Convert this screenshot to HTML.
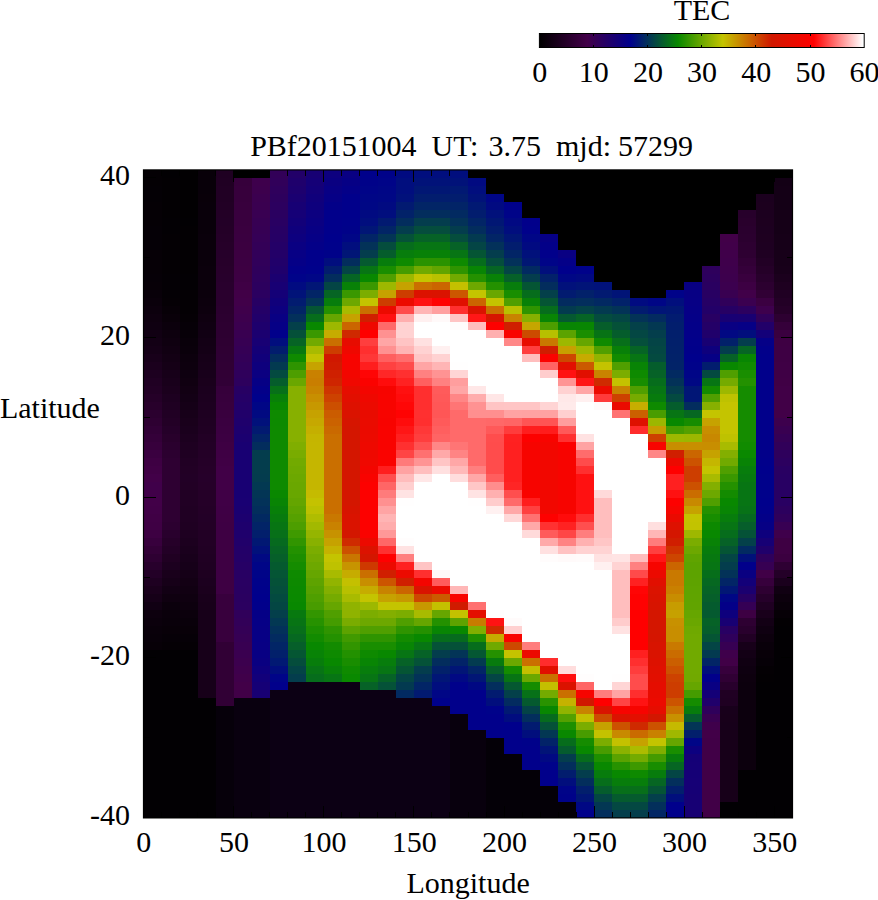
<!DOCTYPE html>
<html><head><meta charset="utf-8"><title>TEC map</title>
<style>
html,body{margin:0;padding:0;background:#fff;}
svg{display:block}
text{font-family:"Liberation Serif",serif;font-size:30px;fill:#000}
.g rect{shape-rendering:crispEdges}
.t line{stroke:#000;stroke-width:1;shape-rendering:crispEdges}
</style></head><body>
<svg width="878" height="900" viewBox="0 0 878 900">
<defs><linearGradient id="pal" x1="0" x2="1" y1="0" y2="0"><stop offset="0.0000" stop-color="rgb(0,0,0)"/><stop offset="0.1467" stop-color="rgb(66,0,72)"/><stop offset="0.2800" stop-color="rgb(0,0,140)"/><stop offset="0.4267" stop-color="rgb(8,136,0)"/><stop offset="0.5650" stop-color="rgb(196,196,0)"/><stop offset="0.7150" stop-color="rgb(208,24,0)"/><stop offset="0.8450" stop-color="rgb(255,0,0)"/><stop offset="0.9950" stop-color="rgb(255,255,255)"/></linearGradient></defs>
<rect x="0" y="0" width="878" height="900" fill="#fff"/>
<g class="g">
<rect x="143.60" y="170.00" width="18.08" height="16.05" fill="#040004"/>
<rect x="143.60" y="186.00" width="18.08" height="16.05" fill="#040005"/>
<rect x="143.60" y="202.00" width="18.08" height="24.05" fill="#050005"/>
<rect x="143.60" y="226.00" width="18.08" height="24.05" fill="#050006"/>
<rect x="143.60" y="250.00" width="18.08" height="24.05" fill="#060006"/>
<rect x="143.60" y="274.00" width="18.08" height="8.05" fill="#060007"/>
<rect x="143.60" y="282.00" width="18.08" height="8.05" fill="#070007"/>
<rect x="143.60" y="290.00" width="18.08" height="8.05" fill="#080009"/>
<rect x="143.60" y="298.00" width="18.08" height="8.05" fill="#0a000b"/>
<rect x="143.60" y="306.00" width="18.08" height="8.05" fill="#0c000d"/>
<rect x="143.60" y="314.00" width="18.08" height="8.05" fill="#0e000f"/>
<rect x="143.60" y="322.00" width="18.08" height="8.05" fill="#0f0011"/>
<rect x="143.60" y="330.00" width="18.08" height="8.05" fill="#110013"/>
<rect x="143.60" y="338.00" width="18.08" height="8.05" fill="#130015"/>
<rect x="143.60" y="346.00" width="18.08" height="8.05" fill="#150017"/>
<rect x="143.60" y="354.00" width="18.08" height="8.05" fill="#18001a"/>
<rect x="143.60" y="362.00" width="18.08" height="8.05" fill="#1b001d"/>
<rect x="143.60" y="370.00" width="18.08" height="8.05" fill="#1d0020"/>
<rect x="143.60" y="378.00" width="18.08" height="8.05" fill="#200023"/>
<rect x="143.60" y="386.00" width="18.08" height="8.05" fill="#220025"/>
<rect x="143.60" y="394.00" width="18.08" height="8.05" fill="#250028"/>
<rect x="143.60" y="402.00" width="18.08" height="8.05" fill="#28002b"/>
<rect x="143.60" y="410.00" width="18.08" height="8.05" fill="#2b002f"/>
<rect x="143.60" y="418.00" width="18.08" height="8.05" fill="#2e0032"/>
<rect x="143.60" y="426.00" width="18.08" height="8.05" fill="#310036"/>
<rect x="143.60" y="434.00" width="18.08" height="8.05" fill="#340039"/>
<rect x="143.60" y="442.00" width="18.08" height="8.05" fill="#37003c"/>
<rect x="143.60" y="450.00" width="18.08" height="8.05" fill="#3a0040"/>
<rect x="143.60" y="458.00" width="18.08" height="8.05" fill="#3e0043"/>
<rect x="143.60" y="466.00" width="18.08" height="8.05" fill="#400045"/>
<rect x="143.60" y="474.00" width="18.08" height="8.05" fill="#420048"/>
<rect x="143.60" y="482.00" width="18.08" height="8.05" fill="#40004a"/>
<rect x="143.60" y="490.00" width="18.08" height="8.05" fill="#410049"/>
<rect x="143.60" y="498.00" width="18.08" height="8.05" fill="#420048"/>
<rect x="143.60" y="506.00" width="18.08" height="8.05" fill="#410047"/>
<rect x="143.60" y="514.00" width="18.08" height="8.05" fill="#400045"/>
<rect x="143.60" y="522.00" width="18.08" height="8.05" fill="#3f0044"/>
<rect x="143.60" y="530.00" width="18.08" height="8.05" fill="#3d0042"/>
<rect x="143.60" y="538.00" width="18.08" height="8.05" fill="#38003d"/>
<rect x="143.60" y="546.00" width="18.08" height="8.05" fill="#330037"/>
<rect x="143.60" y="554.00" width="18.08" height="8.05" fill="#2e0032"/>
<rect x="143.60" y="562.00" width="18.08" height="8.05" fill="#28002c"/>
<rect x="143.60" y="570.00" width="18.08" height="8.05" fill="#230027"/>
<rect x="143.60" y="578.00" width="18.08" height="8.05" fill="#1e0021"/>
<rect x="143.60" y="586.00" width="18.08" height="8.05" fill="#1a001c"/>
<rect x="143.60" y="594.00" width="18.08" height="8.05" fill="#160018"/>
<rect x="143.60" y="602.00" width="18.08" height="8.05" fill="#110013"/>
<rect x="143.60" y="610.00" width="18.08" height="8.05" fill="#0d000e"/>
<rect x="143.60" y="618.00" width="18.08" height="8.05" fill="#0b000c"/>
<rect x="143.60" y="626.00" width="18.08" height="8.05" fill="#09000a"/>
<rect x="143.60" y="634.00" width="18.08" height="8.05" fill="#080009"/>
<rect x="143.60" y="642.00" width="18.08" height="8.05" fill="#070007"/>
<rect x="143.60" y="650.00" width="18.08" height="168.05" fill="#020003"/>
<rect x="161.62" y="170.00" width="18.07" height="8.05" fill="#020003"/>
<rect x="161.62" y="178.00" width="18.07" height="40.05" fill="#030003"/>
<rect x="161.62" y="218.00" width="18.07" height="16.05" fill="#030004"/>
<rect x="161.62" y="234.00" width="18.07" height="40.05" fill="#040004"/>
<rect x="161.62" y="274.00" width="18.07" height="24.05" fill="#040005"/>
<rect x="161.62" y="298.00" width="18.07" height="8.05" fill="#050005"/>
<rect x="161.62" y="306.00" width="18.07" height="8.05" fill="#070007"/>
<rect x="161.62" y="314.00" width="18.07" height="8.05" fill="#090009"/>
<rect x="161.62" y="322.00" width="18.07" height="8.05" fill="#0b000c"/>
<rect x="161.62" y="330.00" width="18.07" height="8.05" fill="#0d000e"/>
<rect x="161.62" y="338.00" width="18.07" height="8.05" fill="#0f0010"/>
<rect x="161.62" y="346.00" width="18.07" height="8.05" fill="#110012"/>
<rect x="161.62" y="354.00" width="18.07" height="8.05" fill="#130014"/>
<rect x="161.62" y="362.00" width="18.07" height="8.05" fill="#150016"/>
<rect x="161.62" y="370.00" width="18.07" height="8.05" fill="#170019"/>
<rect x="161.62" y="378.00" width="18.07" height="8.05" fill="#19001b"/>
<rect x="161.62" y="386.00" width="18.07" height="8.05" fill="#1b001d"/>
<rect x="161.62" y="394.00" width="18.07" height="8.05" fill="#1d0020"/>
<rect x="161.62" y="402.00" width="18.07" height="8.05" fill="#1f0022"/>
<rect x="161.62" y="410.00" width="18.07" height="8.05" fill="#210024"/>
<rect x="161.62" y="418.00" width="18.07" height="8.05" fill="#230026"/>
<rect x="161.62" y="426.00" width="18.07" height="8.05" fill="#250029"/>
<rect x="161.62" y="434.00" width="18.07" height="8.05" fill="#28002b"/>
<rect x="161.62" y="442.00" width="18.07" height="8.05" fill="#2a002e"/>
<rect x="161.62" y="450.00" width="18.07" height="8.05" fill="#2c0030"/>
<rect x="161.62" y="458.00" width="18.07" height="64.05" fill="#2e0032"/>
<rect x="161.62" y="522.00" width="18.07" height="8.05" fill="#2c0030"/>
<rect x="161.62" y="530.00" width="18.07" height="8.05" fill="#29002d"/>
<rect x="161.62" y="538.00" width="18.07" height="8.05" fill="#260029"/>
<rect x="161.62" y="546.00" width="18.07" height="8.05" fill="#230026"/>
<rect x="161.62" y="554.00" width="18.07" height="8.05" fill="#200022"/>
<rect x="161.62" y="562.00" width="18.07" height="8.05" fill="#1c001f"/>
<rect x="161.62" y="570.00" width="18.07" height="8.05" fill="#19001b"/>
<rect x="161.62" y="578.00" width="18.07" height="8.05" fill="#160018"/>
<rect x="161.62" y="586.00" width="18.07" height="8.05" fill="#120014"/>
<rect x="161.62" y="594.00" width="18.07" height="8.05" fill="#0f0010"/>
<rect x="161.62" y="602.00" width="18.07" height="8.05" fill="#0b000c"/>
<rect x="161.62" y="610.00" width="18.07" height="8.05" fill="#0a000b"/>
<rect x="161.62" y="618.00" width="18.07" height="8.05" fill="#09000a"/>
<rect x="161.62" y="626.00" width="18.07" height="8.05" fill="#080008"/>
<rect x="161.62" y="634.00" width="18.07" height="8.05" fill="#060007"/>
<rect x="161.62" y="642.00" width="18.07" height="8.05" fill="#050005"/>
<rect x="161.62" y="650.00" width="18.07" height="168.05" fill="#020003"/>
<rect x="179.65" y="170.00" width="18.08" height="48.05" fill="#020002"/>
<rect x="179.65" y="218.00" width="18.08" height="8.05" fill="#020003"/>
<rect x="179.65" y="226.00" width="18.08" height="48.05" fill="#030003"/>
<rect x="179.65" y="274.00" width="18.08" height="16.05" fill="#030004"/>
<rect x="179.65" y="290.00" width="18.08" height="24.05" fill="#040004"/>
<rect x="179.65" y="314.00" width="18.08" height="8.05" fill="#050005"/>
<rect x="179.65" y="322.00" width="18.08" height="8.05" fill="#060007"/>
<rect x="179.65" y="330.00" width="18.08" height="8.05" fill="#070008"/>
<rect x="179.65" y="338.00" width="18.08" height="8.05" fill="#09000a"/>
<rect x="179.65" y="346.00" width="18.08" height="8.05" fill="#0a000b"/>
<rect x="179.65" y="354.00" width="18.08" height="8.05" fill="#0c000d"/>
<rect x="179.65" y="362.00" width="18.08" height="8.05" fill="#0d000e"/>
<rect x="179.65" y="370.00" width="18.08" height="8.05" fill="#0e0010"/>
<rect x="179.65" y="378.00" width="18.08" height="8.05" fill="#100011"/>
<rect x="179.65" y="386.00" width="18.08" height="8.05" fill="#120013"/>
<rect x="179.65" y="394.00" width="18.08" height="8.05" fill="#130015"/>
<rect x="179.65" y="402.00" width="18.08" height="8.05" fill="#150017"/>
<rect x="179.65" y="410.00" width="18.08" height="8.05" fill="#170019"/>
<rect x="179.65" y="418.00" width="18.08" height="8.05" fill="#19001b"/>
<rect x="179.65" y="426.00" width="18.08" height="8.05" fill="#1a001d"/>
<rect x="179.65" y="434.00" width="18.08" height="8.05" fill="#1c001f"/>
<rect x="179.65" y="442.00" width="18.08" height="8.05" fill="#1e0021"/>
<rect x="179.65" y="450.00" width="18.08" height="8.05" fill="#1f0022"/>
<rect x="179.65" y="458.00" width="18.08" height="8.05" fill="#210024"/>
<rect x="179.65" y="466.00" width="18.08" height="8.05" fill="#220025"/>
<rect x="179.65" y="474.00" width="18.08" height="8.05" fill="#220026"/>
<rect x="179.65" y="482.00" width="18.08" height="8.05" fill="#220025"/>
<rect x="179.65" y="490.00" width="18.08" height="16.05" fill="#210024"/>
<rect x="179.65" y="506.00" width="18.08" height="16.05" fill="#200023"/>
<rect x="179.65" y="522.00" width="18.08" height="8.05" fill="#1f0022"/>
<rect x="179.65" y="530.00" width="18.08" height="8.05" fill="#1e0021"/>
<rect x="179.65" y="538.00" width="18.08" height="8.05" fill="#1c001f"/>
<rect x="179.65" y="546.00" width="18.08" height="8.05" fill="#1a001d"/>
<rect x="179.65" y="554.00" width="18.08" height="8.05" fill="#18001b"/>
<rect x="179.65" y="562.00" width="18.08" height="8.05" fill="#160019"/>
<rect x="179.65" y="570.00" width="18.08" height="8.05" fill="#150017"/>
<rect x="179.65" y="578.00" width="18.08" height="8.05" fill="#130014"/>
<rect x="179.65" y="586.00" width="18.08" height="8.05" fill="#110012"/>
<rect x="179.65" y="594.00" width="18.08" height="8.05" fill="#0f0010"/>
<rect x="179.65" y="602.00" width="18.08" height="8.05" fill="#0d000e"/>
<rect x="179.65" y="610.00" width="18.08" height="8.05" fill="#0b000c"/>
<rect x="179.65" y="618.00" width="18.08" height="8.05" fill="#09000a"/>
<rect x="179.65" y="626.00" width="18.08" height="8.05" fill="#080008"/>
<rect x="179.65" y="634.00" width="18.08" height="8.05" fill="#060007"/>
<rect x="179.65" y="642.00" width="18.08" height="8.05" fill="#050005"/>
<rect x="179.65" y="650.00" width="18.08" height="168.05" fill="#020003"/>
<rect x="197.67" y="170.00" width="18.08" height="24.05" fill="#080009"/>
<rect x="197.67" y="194.00" width="18.08" height="8.05" fill="#090009"/>
<rect x="197.67" y="202.00" width="18.08" height="32.05" fill="#09000a"/>
<rect x="197.67" y="234.00" width="18.08" height="32.05" fill="#0a000b"/>
<rect x="197.67" y="266.00" width="18.08" height="32.05" fill="#0b000c"/>
<rect x="197.67" y="298.00" width="18.08" height="8.05" fill="#0c000d"/>
<rect x="197.67" y="306.00" width="18.08" height="8.05" fill="#0d000e"/>
<rect x="197.67" y="314.00" width="18.08" height="8.05" fill="#0f0010"/>
<rect x="197.67" y="322.00" width="18.08" height="8.05" fill="#100012"/>
<rect x="197.67" y="330.00" width="18.08" height="8.05" fill="#110013"/>
<rect x="197.67" y="338.00" width="18.08" height="8.05" fill="#130015"/>
<rect x="197.67" y="346.00" width="18.08" height="8.05" fill="#140016"/>
<rect x="197.67" y="354.00" width="18.08" height="8.05" fill="#160018"/>
<rect x="197.67" y="362.00" width="18.08" height="8.05" fill="#170019"/>
<rect x="197.67" y="370.00" width="18.08" height="8.05" fill="#18001b"/>
<rect x="197.67" y="378.00" width="18.08" height="8.05" fill="#1a001c"/>
<rect x="197.67" y="386.00" width="18.08" height="8.05" fill="#1b001e"/>
<rect x="197.67" y="394.00" width="18.08" height="8.05" fill="#1c001f"/>
<rect x="197.67" y="402.00" width="18.08" height="8.05" fill="#1d0020"/>
<rect x="197.67" y="410.00" width="18.08" height="8.05" fill="#1e0021"/>
<rect x="197.67" y="418.00" width="18.08" height="8.05" fill="#1f0022"/>
<rect x="197.67" y="426.00" width="18.08" height="8.05" fill="#200023"/>
<rect x="197.67" y="434.00" width="18.08" height="8.05" fill="#220025"/>
<rect x="197.67" y="442.00" width="18.08" height="8.05" fill="#230026"/>
<rect x="197.67" y="450.00" width="18.08" height="8.05" fill="#240027"/>
<rect x="197.67" y="458.00" width="18.08" height="8.05" fill="#250028"/>
<rect x="197.67" y="466.00" width="18.08" height="8.05" fill="#260029"/>
<rect x="197.67" y="474.00" width="18.08" height="8.05" fill="#26002a"/>
<rect x="197.67" y="482.00" width="18.08" height="8.05" fill="#260029"/>
<rect x="197.67" y="490.00" width="18.08" height="16.05" fill="#250028"/>
<rect x="197.67" y="506.00" width="18.08" height="8.05" fill="#240027"/>
<rect x="197.67" y="514.00" width="18.08" height="8.05" fill="#230027"/>
<rect x="197.67" y="522.00" width="18.08" height="8.05" fill="#230026"/>
<rect x="197.67" y="530.00" width="18.08" height="16.05" fill="#220025"/>
<rect x="197.67" y="546.00" width="18.08" height="8.05" fill="#210024"/>
<rect x="197.67" y="554.00" width="18.08" height="8.05" fill="#200023"/>
<rect x="197.67" y="562.00" width="18.08" height="8.05" fill="#1f0022"/>
<rect x="197.67" y="570.00" width="18.08" height="8.05" fill="#1e0020"/>
<rect x="197.67" y="578.00" width="18.08" height="8.05" fill="#1c001f"/>
<rect x="197.67" y="586.00" width="18.08" height="8.05" fill="#1b001d"/>
<rect x="197.67" y="594.00" width="18.08" height="8.05" fill="#19001b"/>
<rect x="197.67" y="602.00" width="18.08" height="8.05" fill="#18001a"/>
<rect x="197.67" y="610.00" width="18.08" height="88.05" fill="#170019"/>
<rect x="197.67" y="698.00" width="18.08" height="120.05" fill="#020003"/>
<rect x="215.70" y="170.00" width="18.08" height="8.05" fill="#1f0022"/>
<rect x="215.70" y="178.00" width="18.08" height="8.05" fill="#200023"/>
<rect x="215.70" y="186.00" width="18.08" height="16.05" fill="#210024"/>
<rect x="215.70" y="202.00" width="18.08" height="8.05" fill="#220025"/>
<rect x="215.70" y="210.00" width="18.08" height="8.05" fill="#230026"/>
<rect x="215.70" y="218.00" width="18.08" height="8.05" fill="#230027"/>
<rect x="215.70" y="226.00" width="18.08" height="8.05" fill="#240027"/>
<rect x="215.70" y="234.00" width="18.08" height="8.05" fill="#250028"/>
<rect x="215.70" y="242.00" width="18.08" height="8.05" fill="#260029"/>
<rect x="215.70" y="250.00" width="18.08" height="8.05" fill="#26002a"/>
<rect x="215.70" y="258.00" width="18.08" height="8.05" fill="#27002a"/>
<rect x="215.70" y="266.00" width="18.08" height="8.05" fill="#28002b"/>
<rect x="215.70" y="274.00" width="18.08" height="8.05" fill="#28002c"/>
<rect x="215.70" y="282.00" width="18.08" height="8.05" fill="#29002d"/>
<rect x="215.70" y="290.00" width="18.08" height="16.05" fill="#2a002e"/>
<rect x="215.70" y="306.00" width="18.08" height="8.05" fill="#2b002f"/>
<rect x="215.70" y="314.00" width="18.08" height="8.05" fill="#2c0030"/>
<rect x="215.70" y="322.00" width="18.08" height="16.05" fill="#2d0031"/>
<rect x="215.70" y="338.00" width="18.08" height="8.05" fill="#2e0032"/>
<rect x="215.70" y="346.00" width="18.08" height="8.05" fill="#2f0033"/>
<rect x="215.70" y="354.00" width="18.08" height="8.05" fill="#2f0034"/>
<rect x="215.70" y="362.00" width="18.08" height="8.05" fill="#300034"/>
<rect x="215.70" y="370.00" width="18.08" height="8.05" fill="#310035"/>
<rect x="215.70" y="378.00" width="18.08" height="8.05" fill="#310036"/>
<rect x="215.70" y="386.00" width="18.08" height="8.05" fill="#36003b"/>
<rect x="215.70" y="394.00" width="18.08" height="8.05" fill="#37003c"/>
<rect x="215.70" y="402.00" width="18.08" height="8.05" fill="#38003d"/>
<rect x="215.70" y="410.00" width="18.08" height="8.05" fill="#39003e"/>
<rect x="215.70" y="418.00" width="18.08" height="8.05" fill="#3a0040"/>
<rect x="215.70" y="426.00" width="18.08" height="8.05" fill="#3b0041"/>
<rect x="215.70" y="434.00" width="18.08" height="8.05" fill="#3c0042"/>
<rect x="215.70" y="442.00" width="18.08" height="8.05" fill="#3e0043"/>
<rect x="215.70" y="450.00" width="18.08" height="8.05" fill="#3f0044"/>
<rect x="215.70" y="458.00" width="18.08" height="8.05" fill="#400045"/>
<rect x="215.70" y="466.00" width="18.08" height="24.05" fill="#410047"/>
<rect x="215.70" y="490.00" width="18.08" height="16.05" fill="#400046"/>
<rect x="215.70" y="506.00" width="18.08" height="8.05" fill="#3f0045"/>
<rect x="215.70" y="514.00" width="18.08" height="8.05" fill="#3f0044"/>
<rect x="215.70" y="522.00" width="18.08" height="8.05" fill="#3e0044"/>
<rect x="215.70" y="530.00" width="18.08" height="64.05" fill="#3e0043"/>
<rect x="215.70" y="594.00" width="18.08" height="48.05" fill="#38003d"/>
<rect x="215.70" y="642.00" width="18.08" height="64.05" fill="#310035"/>
<rect x="215.70" y="706.00" width="18.08" height="112.05" fill="#06000a"/>
<rect x="233.72" y="170.00" width="18.08" height="8.05" fill="#000000"/>
<rect x="233.72" y="178.00" width="18.08" height="8.05" fill="#36003b"/>
<rect x="233.72" y="186.00" width="18.08" height="16.05" fill="#37003c"/>
<rect x="233.72" y="202.00" width="18.08" height="8.05" fill="#38003d"/>
<rect x="233.72" y="210.00" width="18.08" height="16.05" fill="#39003e"/>
<rect x="233.72" y="226.00" width="18.08" height="8.05" fill="#3a003f"/>
<rect x="233.72" y="234.00" width="18.08" height="8.05" fill="#3a0040"/>
<rect x="233.72" y="242.00" width="18.08" height="8.05" fill="#3b0040"/>
<rect x="233.72" y="250.00" width="18.08" height="8.05" fill="#3c0041"/>
<rect x="233.72" y="258.00" width="18.08" height="8.05" fill="#3c0042"/>
<rect x="233.72" y="266.00" width="18.08" height="8.05" fill="#3d0042"/>
<rect x="233.72" y="274.00" width="18.08" height="8.05" fill="#3d0043"/>
<rect x="233.72" y="282.00" width="18.08" height="8.05" fill="#3f0045"/>
<rect x="233.72" y="290.00" width="18.08" height="8.05" fill="#410047"/>
<rect x="233.72" y="298.00" width="18.08" height="8.05" fill="#410049"/>
<rect x="233.72" y="306.00" width="18.08" height="8.05" fill="#3f004b"/>
<rect x="233.72" y="314.00" width="18.08" height="8.05" fill="#3d004d"/>
<rect x="233.72" y="322.00" width="18.08" height="8.05" fill="#3b004f"/>
<rect x="233.72" y="330.00" width="18.08" height="8.05" fill="#390051"/>
<rect x="233.72" y="338.00" width="18.08" height="8.05" fill="#370053"/>
<rect x="233.72" y="346.00" width="18.08" height="8.05" fill="#350055"/>
<rect x="233.72" y="354.00" width="18.08" height="8.05" fill="#330057"/>
<rect x="233.72" y="362.00" width="18.08" height="8.05" fill="#310059"/>
<rect x="233.72" y="370.00" width="18.08" height="8.05" fill="#2f005b"/>
<rect x="233.72" y="378.00" width="18.08" height="8.05" fill="#2d005d"/>
<rect x="233.72" y="386.00" width="18.08" height="8.05" fill="#270063"/>
<rect x="233.72" y="394.00" width="18.08" height="8.05" fill="#250066"/>
<rect x="233.72" y="402.00" width="18.08" height="8.05" fill="#230068"/>
<rect x="233.72" y="410.00" width="18.08" height="8.05" fill="#21006a"/>
<rect x="233.72" y="418.00" width="18.08" height="8.05" fill="#1f006c"/>
<rect x="233.72" y="426.00" width="18.08" height="8.05" fill="#1d006e"/>
<rect x="233.72" y="434.00" width="18.08" height="8.05" fill="#1b0070"/>
<rect x="233.72" y="442.00" width="18.08" height="8.05" fill="#190072"/>
<rect x="233.72" y="450.00" width="18.08" height="48.05" fill="#180073"/>
<rect x="233.72" y="498.00" width="18.08" height="8.05" fill="#190073"/>
<rect x="233.72" y="506.00" width="18.08" height="8.05" fill="#1a0071"/>
<rect x="233.72" y="514.00" width="18.08" height="8.05" fill="#1c006f"/>
<rect x="233.72" y="522.00" width="18.08" height="8.05" fill="#1e006d"/>
<rect x="233.72" y="530.00" width="18.08" height="8.05" fill="#1f006c"/>
<rect x="233.72" y="538.00" width="18.08" height="8.05" fill="#21006a"/>
<rect x="233.72" y="546.00" width="18.08" height="8.05" fill="#230068"/>
<rect x="233.72" y="554.00" width="18.08" height="8.05" fill="#240067"/>
<rect x="233.72" y="562.00" width="18.08" height="8.05" fill="#260065"/>
<rect x="233.72" y="570.00" width="18.08" height="8.05" fill="#280063"/>
<rect x="233.72" y="578.00" width="18.08" height="8.05" fill="#290062"/>
<rect x="233.72" y="586.00" width="18.08" height="8.05" fill="#290061"/>
<rect x="233.72" y="594.00" width="18.08" height="8.05" fill="#2a0060"/>
<rect x="233.72" y="602.00" width="18.08" height="8.05" fill="#2b0060"/>
<rect x="233.72" y="610.00" width="18.08" height="8.05" fill="#30005a"/>
<rect x="233.72" y="618.00" width="18.08" height="8.05" fill="#320058"/>
<rect x="233.72" y="626.00" width="18.08" height="8.05" fill="#340056"/>
<rect x="233.72" y="634.00" width="18.08" height="8.05" fill="#360054"/>
<rect x="233.72" y="642.00" width="18.08" height="8.05" fill="#380052"/>
<rect x="233.72" y="650.00" width="18.08" height="8.05" fill="#3a0050"/>
<rect x="233.72" y="658.00" width="18.08" height="8.05" fill="#3c004e"/>
<rect x="233.72" y="666.00" width="18.08" height="8.05" fill="#3e004c"/>
<rect x="233.72" y="674.00" width="18.08" height="8.05" fill="#40004a"/>
<rect x="233.72" y="682.00" width="18.08" height="8.05" fill="#420048"/>
<rect x="233.72" y="690.00" width="18.08" height="8.05" fill="#410047"/>
<rect x="233.72" y="698.00" width="18.08" height="120.05" fill="#09000f"/>
<rect x="251.75" y="170.00" width="18.07" height="8.05" fill="#000000"/>
<rect x="251.75" y="178.00" width="18.07" height="8.05" fill="#3e004c"/>
<rect x="251.75" y="186.00" width="18.07" height="8.05" fill="#3d004d"/>
<rect x="251.75" y="194.00" width="18.07" height="8.05" fill="#3b004f"/>
<rect x="251.75" y="202.00" width="18.07" height="8.05" fill="#3a0050"/>
<rect x="251.75" y="210.00" width="18.07" height="8.05" fill="#390052"/>
<rect x="251.75" y="218.00" width="18.07" height="8.05" fill="#370053"/>
<rect x="251.75" y="226.00" width="18.07" height="8.05" fill="#360054"/>
<rect x="251.75" y="234.00" width="18.07" height="8.05" fill="#350056"/>
<rect x="251.75" y="242.00" width="18.07" height="8.05" fill="#330057"/>
<rect x="251.75" y="250.00" width="18.07" height="8.05" fill="#320059"/>
<rect x="251.75" y="258.00" width="18.07" height="8.05" fill="#31005a"/>
<rect x="251.75" y="266.00" width="18.07" height="8.05" fill="#2f005b"/>
<rect x="251.75" y="274.00" width="18.07" height="8.05" fill="#2e005d"/>
<rect x="251.75" y="282.00" width="18.07" height="8.05" fill="#2c005e"/>
<rect x="251.75" y="290.00" width="18.07" height="8.05" fill="#2b0060"/>
<rect x="251.75" y="298.00" width="18.07" height="8.05" fill="#270063"/>
<rect x="251.75" y="306.00" width="18.07" height="8.05" fill="#240067"/>
<rect x="251.75" y="314.00" width="18.07" height="8.05" fill="#21006a"/>
<rect x="251.75" y="322.00" width="18.07" height="8.05" fill="#1e006d"/>
<rect x="251.75" y="330.00" width="18.07" height="8.05" fill="#1b0070"/>
<rect x="251.75" y="338.00" width="18.07" height="8.05" fill="#180074"/>
<rect x="251.75" y="346.00" width="18.07" height="8.05" fill="#140077"/>
<rect x="251.75" y="354.00" width="18.07" height="8.05" fill="#11007a"/>
<rect x="251.75" y="362.00" width="18.07" height="8.05" fill="#0e007d"/>
<rect x="251.75" y="370.00" width="18.07" height="8.05" fill="#0b0081"/>
<rect x="251.75" y="378.00" width="18.07" height="8.05" fill="#060085"/>
<rect x="251.75" y="386.00" width="18.07" height="8.05" fill="#030089"/>
<rect x="251.75" y="394.00" width="18.07" height="8.05" fill="#00018b"/>
<rect x="251.75" y="402.00" width="18.07" height="8.05" fill="#000686"/>
<rect x="251.75" y="410.00" width="18.07" height="8.05" fill="#010a81"/>
<rect x="251.75" y="418.00" width="18.07" height="8.05" fill="#01117b"/>
<rect x="251.75" y="426.00" width="18.07" height="8.05" fill="#021a71"/>
<rect x="251.75" y="434.00" width="18.07" height="8.05" fill="#022467"/>
<rect x="251.75" y="442.00" width="18.07" height="8.05" fill="#032d5d"/>
<rect x="251.75" y="450.00" width="18.07" height="24.05" fill="#043d4d"/>
<rect x="251.75" y="474.00" width="18.07" height="8.05" fill="#043c4e"/>
<rect x="251.75" y="482.00" width="18.07" height="8.05" fill="#033952"/>
<rect x="251.75" y="490.00" width="18.07" height="8.05" fill="#033555"/>
<rect x="251.75" y="498.00" width="18.07" height="8.05" fill="#033259"/>
<rect x="251.75" y="506.00" width="18.07" height="8.05" fill="#032e5c"/>
<rect x="251.75" y="514.00" width="18.07" height="8.05" fill="#022961"/>
<rect x="251.75" y="522.00" width="18.07" height="8.05" fill="#022467"/>
<rect x="251.75" y="530.00" width="18.07" height="8.05" fill="#021f6c"/>
<rect x="251.75" y="538.00" width="18.07" height="8.05" fill="#011873"/>
<rect x="251.75" y="546.00" width="18.07" height="8.05" fill="#01117b"/>
<rect x="251.75" y="554.00" width="18.07" height="8.05" fill="#010983"/>
<rect x="251.75" y="562.00" width="18.07" height="8.05" fill="#000587"/>
<rect x="251.75" y="570.00" width="18.07" height="8.05" fill="#000488"/>
<rect x="251.75" y="578.00" width="18.07" height="8.05" fill="#00028a"/>
<rect x="251.75" y="586.00" width="18.07" height="8.05" fill="#00018b"/>
<rect x="251.75" y="594.00" width="18.07" height="8.05" fill="#00008c"/>
<rect x="251.75" y="602.00" width="18.07" height="8.05" fill="#01008b"/>
<rect x="251.75" y="610.00" width="18.07" height="8.05" fill="#050086"/>
<rect x="251.75" y="618.00" width="18.07" height="8.05" fill="#060086"/>
<rect x="251.75" y="626.00" width="18.07" height="16.05" fill="#070085"/>
<rect x="251.75" y="642.00" width="18.07" height="8.05" fill="#080084"/>
<rect x="251.75" y="650.00" width="18.07" height="8.05" fill="#080083"/>
<rect x="251.75" y="658.00" width="18.07" height="8.05" fill="#0a0081"/>
<rect x="251.75" y="666.00" width="18.07" height="8.05" fill="#0e007e"/>
<rect x="251.75" y="674.00" width="18.07" height="8.05" fill="#12007a"/>
<rect x="251.75" y="682.00" width="18.07" height="8.05" fill="#150076"/>
<rect x="251.75" y="690.00" width="18.07" height="8.05" fill="#180073"/>
<rect x="251.75" y="698.00" width="18.07" height="120.05" fill="#09000f"/>
<rect x="269.77" y="170.00" width="18.07" height="8.05" fill="#320058"/>
<rect x="269.77" y="178.00" width="18.07" height="8.05" fill="#31005a"/>
<rect x="269.77" y="186.00" width="18.07" height="8.05" fill="#2f005c"/>
<rect x="269.77" y="194.00" width="18.07" height="8.05" fill="#2d005d"/>
<rect x="269.77" y="202.00" width="18.07" height="8.05" fill="#2c005f"/>
<rect x="269.77" y="210.00" width="18.07" height="8.05" fill="#2a0060"/>
<rect x="269.77" y="218.00" width="18.07" height="8.05" fill="#290062"/>
<rect x="269.77" y="226.00" width="18.07" height="8.05" fill="#270064"/>
<rect x="269.77" y="234.00" width="18.07" height="8.05" fill="#260065"/>
<rect x="269.77" y="242.00" width="18.07" height="8.05" fill="#240067"/>
<rect x="269.77" y="250.00" width="18.07" height="8.05" fill="#230068"/>
<rect x="269.77" y="258.00" width="18.07" height="8.05" fill="#21006a"/>
<rect x="269.77" y="266.00" width="18.07" height="8.05" fill="#1f006c"/>
<rect x="269.77" y="274.00" width="18.07" height="8.05" fill="#1b0070"/>
<rect x="269.77" y="282.00" width="18.07" height="8.05" fill="#180074"/>
<rect x="269.77" y="290.00" width="18.07" height="8.05" fill="#140077"/>
<rect x="269.77" y="298.00" width="18.07" height="8.05" fill="#10007b"/>
<rect x="269.77" y="306.00" width="18.07" height="8.05" fill="#0d007f"/>
<rect x="269.77" y="314.00" width="18.07" height="8.05" fill="#090083"/>
<rect x="269.77" y="322.00" width="18.07" height="8.05" fill="#060086"/>
<rect x="269.77" y="330.00" width="18.07" height="8.05" fill="#01008b"/>
<rect x="269.77" y="338.00" width="18.07" height="8.05" fill="#010e7e"/>
<rect x="269.77" y="346.00" width="18.07" height="8.05" fill="#021d6e"/>
<rect x="269.77" y="354.00" width="18.07" height="8.05" fill="#032d5d"/>
<rect x="269.77" y="362.00" width="18.07" height="8.05" fill="#033a50"/>
<rect x="269.77" y="370.00" width="18.07" height="8.05" fill="#044a40"/>
<rect x="269.77" y="378.00" width="18.07" height="8.05" fill="#055d2c"/>
<rect x="269.77" y="386.00" width="18.07" height="8.05" fill="#077019"/>
<rect x="269.77" y="394.00" width="18.07" height="8.05" fill="#088008"/>
<rect x="269.77" y="402.00" width="18.07" height="8.05" fill="#088800"/>
<rect x="269.77" y="410.00" width="18.07" height="8.05" fill="#0e8a00"/>
<rect x="269.77" y="418.00" width="18.07" height="8.05" fill="#0d8a00"/>
<rect x="269.77" y="426.00" width="18.07" height="64.05" fill="#0e8a00"/>
<rect x="269.77" y="490.00" width="18.07" height="8.05" fill="#098800"/>
<rect x="269.77" y="498.00" width="18.07" height="8.05" fill="#088404"/>
<rect x="269.77" y="506.00" width="18.07" height="8.05" fill="#077f09"/>
<rect x="269.77" y="514.00" width="18.07" height="8.05" fill="#077a0e"/>
<rect x="269.77" y="522.00" width="18.07" height="8.05" fill="#077513"/>
<rect x="269.77" y="530.00" width="18.07" height="8.05" fill="#077019"/>
<rect x="269.77" y="538.00" width="18.07" height="8.05" fill="#066a1f"/>
<rect x="269.77" y="546.00" width="18.07" height="8.05" fill="#066425"/>
<rect x="269.77" y="554.00" width="18.07" height="8.05" fill="#065f2a"/>
<rect x="269.77" y="562.00" width="18.07" height="8.05" fill="#055a2f"/>
<rect x="269.77" y="570.00" width="18.07" height="8.05" fill="#055535"/>
<rect x="269.77" y="578.00" width="18.07" height="8.05" fill="#055138"/>
<rect x="269.77" y="586.00" width="18.07" height="8.05" fill="#054e3c"/>
<rect x="269.77" y="594.00" width="18.07" height="8.05" fill="#044a40"/>
<rect x="269.77" y="602.00" width="18.07" height="8.05" fill="#044643"/>
<rect x="269.77" y="610.00" width="18.07" height="8.05" fill="#043f4b"/>
<rect x="269.77" y="618.00" width="18.07" height="8.05" fill="#033853"/>
<rect x="269.77" y="626.00" width="18.07" height="8.05" fill="#03315a"/>
<rect x="269.77" y="634.00" width="18.07" height="8.05" fill="#032b60"/>
<rect x="269.77" y="642.00" width="18.07" height="8.05" fill="#022566"/>
<rect x="269.77" y="650.00" width="18.07" height="8.05" fill="#02206b"/>
<rect x="269.77" y="658.00" width="18.07" height="8.05" fill="#011973"/>
<rect x="269.77" y="666.00" width="18.07" height="8.05" fill="#010e7d"/>
<rect x="269.77" y="674.00" width="18.07" height="8.05" fill="#000488"/>
<rect x="269.77" y="682.00" width="18.07" height="8.05" fill="#01008b"/>
<rect x="269.77" y="690.00" width="18.07" height="128.05" fill="#0c0014"/>
<rect x="287.80" y="170.00" width="18.08" height="8.05" fill="#220069"/>
<rect x="287.80" y="178.00" width="18.08" height="8.05" fill="#1f006c"/>
<rect x="287.80" y="186.00" width="18.08" height="8.05" fill="#1d006e"/>
<rect x="287.80" y="194.00" width="18.08" height="8.05" fill="#1a0071"/>
<rect x="287.80" y="202.00" width="18.08" height="8.05" fill="#170074"/>
<rect x="287.80" y="210.00" width="18.08" height="8.05" fill="#150077"/>
<rect x="287.80" y="218.00" width="18.08" height="8.05" fill="#120079"/>
<rect x="287.80" y="226.00" width="18.08" height="8.05" fill="#0f007c"/>
<rect x="287.80" y="234.00" width="18.08" height="8.05" fill="#0d007f"/>
<rect x="287.80" y="242.00" width="18.08" height="8.05" fill="#0a0082"/>
<rect x="287.80" y="250.00" width="18.08" height="8.05" fill="#070085"/>
<rect x="287.80" y="258.00" width="18.08" height="8.05" fill="#050087"/>
<rect x="287.80" y="266.00" width="18.08" height="8.05" fill="#02008a"/>
<rect x="287.80" y="274.00" width="18.08" height="8.05" fill="#000389"/>
<rect x="287.80" y="282.00" width="18.08" height="8.05" fill="#010b81"/>
<rect x="287.80" y="290.00" width="18.08" height="8.05" fill="#011379"/>
<rect x="287.80" y="298.00" width="18.08" height="8.05" fill="#021c70"/>
<rect x="287.80" y="306.00" width="18.08" height="8.05" fill="#022566"/>
<rect x="287.80" y="314.00" width="18.08" height="8.05" fill="#03305b"/>
<rect x="287.80" y="322.00" width="18.08" height="8.05" fill="#04404a"/>
<rect x="287.80" y="330.00" width="18.08" height="8.05" fill="#055039"/>
<rect x="287.80" y="338.00" width="18.08" height="8.05" fill="#066425"/>
<rect x="287.80" y="346.00" width="18.08" height="8.05" fill="#077810"/>
<rect x="287.80" y="354.00" width="18.08" height="8.05" fill="#0f8a00"/>
<rect x="287.80" y="362.00" width="18.08" height="8.05" fill="#2e9400"/>
<rect x="287.80" y="370.00" width="18.08" height="8.05" fill="#4d9e00"/>
<rect x="287.80" y="378.00" width="18.08" height="8.05" fill="#6aa700"/>
<rect x="287.80" y="386.00" width="18.08" height="56.05" fill="#87b000"/>
<rect x="287.80" y="442.00" width="18.08" height="8.05" fill="#80ae00"/>
<rect x="287.80" y="450.00" width="18.08" height="8.05" fill="#79ac00"/>
<rect x="287.80" y="458.00" width="18.08" height="8.05" fill="#72aa00"/>
<rect x="287.80" y="466.00" width="18.08" height="8.05" fill="#6fa900"/>
<rect x="287.80" y="474.00" width="18.08" height="8.05" fill="#6ca800"/>
<rect x="287.80" y="482.00" width="18.08" height="8.05" fill="#6aa700"/>
<rect x="287.80" y="490.00" width="18.08" height="8.05" fill="#68a700"/>
<rect x="287.80" y="498.00" width="18.08" height="8.05" fill="#64a500"/>
<rect x="287.80" y="506.00" width="18.08" height="8.05" fill="#5da300"/>
<rect x="287.80" y="514.00" width="18.08" height="8.05" fill="#56a100"/>
<rect x="287.80" y="522.00" width="18.08" height="8.05" fill="#4d9e00"/>
<rect x="287.80" y="530.00" width="18.08" height="8.05" fill="#3f9a00"/>
<rect x="287.80" y="538.00" width="18.08" height="8.05" fill="#319500"/>
<rect x="287.80" y="546.00" width="18.08" height="8.05" fill="#239100"/>
<rect x="287.80" y="554.00" width="18.08" height="8.05" fill="#1c8e00"/>
<rect x="287.80" y="562.00" width="18.08" height="8.05" fill="#158c00"/>
<rect x="287.80" y="570.00" width="18.08" height="8.05" fill="#0e8a00"/>
<rect x="287.80" y="578.00" width="18.08" height="8.05" fill="#0d8900"/>
<rect x="287.80" y="586.00" width="18.08" height="8.05" fill="#0b8900"/>
<rect x="287.80" y="594.00" width="18.08" height="8.05" fill="#0a8900"/>
<rect x="287.80" y="602.00" width="18.08" height="8.05" fill="#088800"/>
<rect x="287.80" y="610.00" width="18.08" height="8.05" fill="#07790f"/>
<rect x="287.80" y="618.00" width="18.08" height="8.05" fill="#077414"/>
<rect x="287.80" y="626.00" width="18.08" height="8.05" fill="#076f1a"/>
<rect x="287.80" y="634.00" width="18.08" height="8.05" fill="#066821"/>
<rect x="287.80" y="642.00" width="18.08" height="8.05" fill="#065f2a"/>
<rect x="287.80" y="650.00" width="18.08" height="8.05" fill="#055633"/>
<rect x="287.80" y="658.00" width="18.08" height="8.05" fill="#054d3c"/>
<rect x="287.80" y="666.00" width="18.08" height="8.05" fill="#044446"/>
<rect x="287.80" y="674.00" width="18.08" height="8.05" fill="#043d4d"/>
<rect x="287.80" y="682.00" width="18.08" height="136.05" fill="#0c0014"/>
<rect x="305.82" y="170.00" width="18.08" height="8.05" fill="#170074"/>
<rect x="305.82" y="178.00" width="18.08" height="8.05" fill="#150077"/>
<rect x="305.82" y="186.00" width="18.08" height="8.05" fill="#130079"/>
<rect x="305.82" y="194.00" width="18.08" height="8.05" fill="#10007b"/>
<rect x="305.82" y="202.00" width="18.08" height="8.05" fill="#0e007d"/>
<rect x="305.82" y="210.00" width="18.08" height="8.05" fill="#0c0080"/>
<rect x="305.82" y="218.00" width="18.08" height="8.05" fill="#0a0082"/>
<rect x="305.82" y="226.00" width="18.08" height="8.05" fill="#080084"/>
<rect x="305.82" y="234.00" width="18.08" height="8.05" fill="#060086"/>
<rect x="305.82" y="242.00" width="18.08" height="8.05" fill="#040088"/>
<rect x="305.82" y="250.00" width="18.08" height="16.05" fill="#01008b"/>
<rect x="305.82" y="266.00" width="18.08" height="8.05" fill="#00018b"/>
<rect x="305.82" y="274.00" width="18.08" height="8.05" fill="#000686"/>
<rect x="305.82" y="282.00" width="18.08" height="8.05" fill="#011676"/>
<rect x="305.82" y="290.00" width="18.08" height="8.05" fill="#022566"/>
<rect x="305.82" y="298.00" width="18.08" height="8.05" fill="#033555"/>
<rect x="305.82" y="306.00" width="18.08" height="8.05" fill="#055534"/>
<rect x="305.82" y="314.00" width="18.08" height="8.05" fill="#066d1c"/>
<rect x="305.82" y="322.00" width="18.08" height="8.05" fill="#088800"/>
<rect x="305.82" y="330.00" width="18.08" height="8.05" fill="#3a9800"/>
<rect x="305.82" y="338.00" width="18.08" height="8.05" fill="#71aa00"/>
<rect x="305.82" y="346.00" width="18.08" height="8.05" fill="#a8bb00"/>
<rect x="305.82" y="354.00" width="18.08" height="8.05" fill="#c2c300"/>
<rect x="305.82" y="362.00" width="18.08" height="8.05" fill="#c6a300"/>
<rect x="305.82" y="370.00" width="18.08" height="8.05" fill="#c98100"/>
<rect x="305.82" y="378.00" width="18.08" height="8.05" fill="#c97e00"/>
<rect x="305.82" y="386.00" width="18.08" height="8.05" fill="#c88500"/>
<rect x="305.82" y="394.00" width="18.08" height="8.05" fill="#c88f00"/>
<rect x="305.82" y="402.00" width="18.08" height="8.05" fill="#c79800"/>
<rect x="305.82" y="410.00" width="18.08" height="8.05" fill="#c6a200"/>
<rect x="305.82" y="418.00" width="18.08" height="8.05" fill="#c6a800"/>
<rect x="305.82" y="426.00" width="18.08" height="8.05" fill="#c5af00"/>
<rect x="305.82" y="434.00" width="18.08" height="8.05" fill="#c5b500"/>
<rect x="305.82" y="442.00" width="18.08" height="48.05" fill="#c5b600"/>
<rect x="305.82" y="490.00" width="18.08" height="8.05" fill="#c5bb00"/>
<rect x="305.82" y="498.00" width="18.08" height="8.05" fill="#c4c200"/>
<rect x="305.82" y="506.00" width="18.08" height="8.05" fill="#bcc100"/>
<rect x="305.82" y="514.00" width="18.08" height="8.05" fill="#afbd00"/>
<rect x="305.82" y="522.00" width="18.08" height="8.05" fill="#a2b900"/>
<rect x="305.82" y="530.00" width="18.08" height="8.05" fill="#95b500"/>
<rect x="305.82" y="538.00" width="18.08" height="8.05" fill="#88b100"/>
<rect x="305.82" y="546.00" width="18.08" height="8.05" fill="#7bad00"/>
<rect x="305.82" y="554.00" width="18.08" height="8.05" fill="#74aa00"/>
<rect x="305.82" y="562.00" width="18.08" height="8.05" fill="#6da800"/>
<rect x="305.82" y="570.00" width="18.08" height="8.05" fill="#66a600"/>
<rect x="305.82" y="578.00" width="18.08" height="8.05" fill="#5ea300"/>
<rect x="305.82" y="586.00" width="18.08" height="8.05" fill="#57a100"/>
<rect x="305.82" y="594.00" width="18.08" height="8.05" fill="#4f9f00"/>
<rect x="305.82" y="602.00" width="18.08" height="8.05" fill="#489c00"/>
<rect x="305.82" y="610.00" width="18.08" height="8.05" fill="#339600"/>
<rect x="305.82" y="618.00" width="18.08" height="8.05" fill="#279200"/>
<rect x="305.82" y="626.00" width="18.08" height="8.05" fill="#1c8e00"/>
<rect x="305.82" y="634.00" width="18.08" height="8.05" fill="#128b00"/>
<rect x="305.82" y="642.00" width="18.08" height="8.05" fill="#088800"/>
<rect x="305.82" y="650.00" width="18.08" height="8.05" fill="#088306"/>
<rect x="305.82" y="658.00" width="18.08" height="8.05" fill="#077d0b"/>
<rect x="305.82" y="666.00" width="18.08" height="8.05" fill="#077415"/>
<rect x="305.82" y="674.00" width="18.08" height="8.05" fill="#066d1c"/>
<rect x="305.82" y="682.00" width="18.08" height="136.05" fill="#0c0014"/>
<rect x="323.85" y="170.00" width="18.07" height="8.05" fill="#0d007f"/>
<rect x="323.85" y="178.00" width="18.07" height="8.05" fill="#0a0081"/>
<rect x="323.85" y="186.00" width="18.07" height="8.05" fill="#080084"/>
<rect x="323.85" y="194.00" width="18.07" height="8.05" fill="#060086"/>
<rect x="323.85" y="202.00" width="18.07" height="8.05" fill="#030088"/>
<rect x="323.85" y="210.00" width="18.07" height="24.05" fill="#01008b"/>
<rect x="323.85" y="234.00" width="18.07" height="8.05" fill="#00008c"/>
<rect x="323.85" y="242.00" width="18.07" height="8.05" fill="#00018b"/>
<rect x="323.85" y="250.00" width="18.07" height="8.05" fill="#000289"/>
<rect x="323.85" y="258.00" width="18.07" height="8.05" fill="#010e7e"/>
<rect x="323.85" y="266.00" width="18.07" height="8.05" fill="#021d6e"/>
<rect x="323.85" y="274.00" width="18.07" height="8.05" fill="#032d5d"/>
<rect x="323.85" y="282.00" width="18.07" height="8.05" fill="#044545"/>
<rect x="323.85" y="290.00" width="18.07" height="8.05" fill="#066524"/>
<rect x="323.85" y="298.00" width="18.07" height="8.05" fill="#077d0c"/>
<rect x="323.85" y="306.00" width="18.07" height="8.05" fill="#249100"/>
<rect x="323.85" y="314.00" width="18.07" height="8.05" fill="#66a600"/>
<rect x="323.85" y="322.00" width="18.07" height="8.05" fill="#9db800"/>
<rect x="323.85" y="330.00" width="18.07" height="8.05" fill="#c6ac00"/>
<rect x="323.85" y="338.00" width="18.07" height="8.05" fill="#ca6f00"/>
<rect x="323.85" y="346.00" width="18.07" height="8.05" fill="#cd3d00"/>
<rect x="323.85" y="354.00" width="18.07" height="8.05" fill="#d01800"/>
<rect x="323.85" y="362.00" width="18.07" height="8.05" fill="#d01b00"/>
<rect x="323.85" y="370.00" width="18.07" height="8.05" fill="#cf2000"/>
<rect x="323.85" y="378.00" width="18.07" height="8.05" fill="#cf2500"/>
<rect x="323.85" y="386.00" width="18.07" height="8.05" fill="#ce3500"/>
<rect x="323.85" y="394.00" width="18.07" height="8.05" fill="#cd4200"/>
<rect x="323.85" y="402.00" width="18.07" height="8.05" fill="#cc4f00"/>
<rect x="323.85" y="410.00" width="18.07" height="8.05" fill="#cb5c00"/>
<rect x="323.85" y="418.00" width="18.07" height="8.05" fill="#cb6200"/>
<rect x="323.85" y="426.00" width="18.07" height="8.05" fill="#ca6900"/>
<rect x="323.85" y="434.00" width="18.07" height="80.05" fill="#ca6f00"/>
<rect x="323.85" y="514.00" width="18.07" height="8.05" fill="#c97800"/>
<rect x="323.85" y="522.00" width="18.07" height="8.05" fill="#c98200"/>
<rect x="323.85" y="530.00" width="18.07" height="8.05" fill="#c79200"/>
<rect x="323.85" y="538.00" width="18.07" height="8.05" fill="#c6a200"/>
<rect x="323.85" y="546.00" width="18.07" height="8.05" fill="#c5b200"/>
<rect x="323.85" y="554.00" width="18.07" height="8.05" fill="#c4c400"/>
<rect x="323.85" y="562.00" width="18.07" height="8.05" fill="#bec200"/>
<rect x="323.85" y="570.00" width="18.07" height="8.05" fill="#a8bb00"/>
<rect x="323.85" y="578.00" width="18.07" height="8.05" fill="#92b400"/>
<rect x="323.85" y="586.00" width="18.07" height="8.05" fill="#83af00"/>
<rect x="323.85" y="594.00" width="18.07" height="8.05" fill="#75ab00"/>
<rect x="323.85" y="602.00" width="18.07" height="8.05" fill="#66a600"/>
<rect x="323.85" y="610.00" width="18.07" height="8.05" fill="#509f00"/>
<rect x="323.85" y="618.00" width="18.07" height="8.05" fill="#459c00"/>
<rect x="323.85" y="626.00" width="18.07" height="8.05" fill="#2f9400"/>
<rect x="323.85" y="634.00" width="18.07" height="8.05" fill="#249100"/>
<rect x="323.85" y="642.00" width="18.07" height="8.05" fill="#138b00"/>
<rect x="323.85" y="650.00" width="18.07" height="8.05" fill="#0e8a00"/>
<rect x="323.85" y="658.00" width="18.07" height="8.05" fill="#088800"/>
<rect x="323.85" y="666.00" width="18.07" height="8.05" fill="#088008"/>
<rect x="323.85" y="674.00" width="18.07" height="8.05" fill="#077514"/>
<rect x="323.85" y="682.00" width="18.07" height="136.05" fill="#0c0014"/>
<rect x="341.88" y="170.00" width="18.07" height="8.05" fill="#090083"/>
<rect x="341.88" y="178.00" width="18.07" height="8.05" fill="#060085"/>
<rect x="341.88" y="186.00" width="18.07" height="8.05" fill="#040088"/>
<rect x="341.88" y="194.00" width="18.07" height="16.05" fill="#01008b"/>
<rect x="341.88" y="210.00" width="18.07" height="8.05" fill="#00008c"/>
<rect x="341.88" y="218.00" width="18.07" height="8.05" fill="#00018b"/>
<rect x="341.88" y="226.00" width="18.07" height="8.05" fill="#000289"/>
<rect x="341.88" y="234.00" width="18.07" height="8.05" fill="#000686"/>
<rect x="341.88" y="242.00" width="18.07" height="8.05" fill="#010e7e"/>
<rect x="341.88" y="250.00" width="18.07" height="8.05" fill="#011676"/>
<rect x="341.88" y="258.00" width="18.07" height="8.05" fill="#032d5d"/>
<rect x="341.88" y="266.00" width="18.07" height="8.05" fill="#044545"/>
<rect x="341.88" y="274.00" width="18.07" height="8.05" fill="#066524"/>
<rect x="341.88" y="282.00" width="18.07" height="8.05" fill="#088107"/>
<rect x="341.88" y="290.00" width="18.07" height="8.05" fill="#3a9800"/>
<rect x="341.88" y="298.00" width="18.07" height="8.05" fill="#6da800"/>
<rect x="341.88" y="306.00" width="18.07" height="8.05" fill="#a8bb00"/>
<rect x="341.88" y="314.00" width="18.07" height="8.05" fill="#c6a200"/>
<rect x="341.88" y="322.00" width="18.07" height="8.05" fill="#cb6500"/>
<rect x="341.88" y="330.00" width="18.07" height="8.05" fill="#cf2900"/>
<rect x="341.88" y="338.00" width="18.07" height="8.05" fill="#e70c00"/>
<rect x="341.88" y="346.00" width="18.07" height="8.05" fill="#ef0800"/>
<rect x="341.88" y="354.00" width="18.07" height="16.05" fill="#f70400"/>
<rect x="341.88" y="370.00" width="18.07" height="8.05" fill="#f30600"/>
<rect x="341.88" y="378.00" width="18.07" height="8.05" fill="#f00800"/>
<rect x="341.88" y="386.00" width="18.07" height="8.05" fill="#e60d00"/>
<rect x="341.88" y="394.00" width="18.07" height="8.05" fill="#e20f00"/>
<rect x="341.88" y="402.00" width="18.07" height="8.05" fill="#de1100"/>
<rect x="341.88" y="410.00" width="18.07" height="8.05" fill="#da1300"/>
<rect x="341.88" y="418.00" width="18.07" height="8.05" fill="#d61500"/>
<rect x="341.88" y="426.00" width="18.07" height="80.05" fill="#d41600"/>
<rect x="341.88" y="506.00" width="18.07" height="8.05" fill="#d71400"/>
<rect x="341.88" y="514.00" width="18.07" height="16.05" fill="#da1300"/>
<rect x="341.88" y="530.00" width="18.07" height="8.05" fill="#d31700"/>
<rect x="341.88" y="538.00" width="18.07" height="8.05" fill="#cf2b00"/>
<rect x="341.88" y="546.00" width="18.07" height="8.05" fill="#cc5100"/>
<rect x="341.88" y="554.00" width="18.07" height="8.05" fill="#c97600"/>
<rect x="341.88" y="562.00" width="18.07" height="8.05" fill="#c79400"/>
<rect x="341.88" y="570.00" width="18.07" height="8.05" fill="#c6ac00"/>
<rect x="341.88" y="578.00" width="18.07" height="8.05" fill="#c4c000"/>
<rect x="341.88" y="586.00" width="18.07" height="8.05" fill="#b8c000"/>
<rect x="341.88" y="594.00" width="18.07" height="8.05" fill="#a8bb00"/>
<rect x="341.88" y="602.00" width="18.07" height="8.05" fill="#90b300"/>
<rect x="341.88" y="610.00" width="18.07" height="8.05" fill="#8fb300"/>
<rect x="341.88" y="618.00" width="18.07" height="8.05" fill="#7aac00"/>
<rect x="341.88" y="626.00" width="18.07" height="8.05" fill="#5da300"/>
<rect x="341.88" y="634.00" width="18.07" height="8.05" fill="#419a00"/>
<rect x="341.88" y="642.00" width="18.07" height="8.05" fill="#329500"/>
<rect x="341.88" y="650.00" width="18.07" height="8.05" fill="#239100"/>
<rect x="341.88" y="658.00" width="18.07" height="8.05" fill="#198d00"/>
<rect x="341.88" y="666.00" width="18.07" height="8.05" fill="#0f8a00"/>
<rect x="341.88" y="674.00" width="18.07" height="8.05" fill="#0a8900"/>
<rect x="341.88" y="682.00" width="18.07" height="136.05" fill="#0c0014"/>
<rect x="359.90" y="170.00" width="18.07" height="8.05" fill="#00018b"/>
<rect x="359.90" y="178.00" width="18.07" height="8.05" fill="#000289"/>
<rect x="359.90" y="186.00" width="18.07" height="8.05" fill="#000488"/>
<rect x="359.90" y="194.00" width="18.07" height="8.05" fill="#000686"/>
<rect x="359.90" y="202.00" width="18.07" height="8.05" fill="#000785"/>
<rect x="359.90" y="210.00" width="18.07" height="8.05" fill="#010a81"/>
<rect x="359.90" y="218.00" width="18.07" height="8.05" fill="#010e7e"/>
<rect x="359.90" y="226.00" width="18.07" height="8.05" fill="#011676"/>
<rect x="359.90" y="234.00" width="18.07" height="8.05" fill="#022566"/>
<rect x="359.90" y="242.00" width="18.07" height="8.05" fill="#033258"/>
<rect x="359.90" y="250.00" width="18.07" height="8.05" fill="#043d4d"/>
<rect x="359.90" y="258.00" width="18.07" height="8.05" fill="#055a30"/>
<rect x="359.90" y="266.00" width="18.07" height="8.05" fill="#077514"/>
<rect x="359.90" y="274.00" width="18.07" height="8.05" fill="#088800"/>
<rect x="359.90" y="282.00" width="18.07" height="8.05" fill="#3a9800"/>
<rect x="359.90" y="290.00" width="18.07" height="8.05" fill="#7cad00"/>
<rect x="359.90" y="298.00" width="18.07" height="8.05" fill="#c4c400"/>
<rect x="359.90" y="306.00" width="18.07" height="8.05" fill="#ca6f00"/>
<rect x="359.90" y="314.00" width="18.07" height="8.05" fill="#d01f00"/>
<rect x="359.90" y="322.00" width="18.07" height="8.05" fill="#ef0800"/>
<rect x="359.90" y="330.00" width="18.07" height="8.05" fill="#ff0000"/>
<rect x="359.90" y="338.00" width="18.07" height="8.05" fill="#ff3e3e"/>
<rect x="359.90" y="346.00" width="18.07" height="8.05" fill="#ff2f2f"/>
<rect x="359.90" y="354.00" width="18.07" height="8.05" fill="#ff3737"/>
<rect x="359.90" y="362.00" width="18.07" height="8.05" fill="#ff1e1e"/>
<rect x="359.90" y="370.00" width="18.07" height="8.05" fill="#ff0505"/>
<rect x="359.90" y="378.00" width="18.07" height="8.05" fill="#fb0200"/>
<rect x="359.90" y="386.00" width="18.07" height="8.05" fill="#f40500"/>
<rect x="359.90" y="394.00" width="18.07" height="8.05" fill="#ef0800"/>
<rect x="359.90" y="402.00" width="18.07" height="8.05" fill="#ec0a00"/>
<rect x="359.90" y="410.00" width="18.07" height="8.05" fill="#e90b00"/>
<rect x="359.90" y="418.00" width="18.07" height="8.05" fill="#ea0b00"/>
<rect x="359.90" y="426.00" width="18.07" height="8.05" fill="#eb0a00"/>
<rect x="359.90" y="434.00" width="18.07" height="8.05" fill="#ec0a00"/>
<rect x="359.90" y="442.00" width="18.07" height="8.05" fill="#ee0900"/>
<rect x="359.90" y="450.00" width="18.07" height="8.05" fill="#ef0800"/>
<rect x="359.90" y="458.00" width="18.07" height="8.05" fill="#f00800"/>
<rect x="359.90" y="466.00" width="18.07" height="8.05" fill="#f40500"/>
<rect x="359.90" y="474.00" width="18.07" height="8.05" fill="#f90300"/>
<rect x="359.90" y="482.00" width="18.07" height="48.05" fill="#fd0100"/>
<rect x="359.90" y="530.00" width="18.07" height="8.05" fill="#fa0300"/>
<rect x="359.90" y="538.00" width="18.07" height="8.05" fill="#ec0a00"/>
<rect x="359.90" y="546.00" width="18.07" height="8.05" fill="#dc1200"/>
<rect x="359.90" y="554.00" width="18.07" height="8.05" fill="#d41600"/>
<rect x="359.90" y="562.00" width="18.07" height="8.05" fill="#ce3900"/>
<rect x="359.90" y="570.00" width="18.07" height="8.05" fill="#ca6f00"/>
<rect x="359.90" y="578.00" width="18.07" height="8.05" fill="#c88e00"/>
<rect x="359.90" y="586.00" width="18.07" height="8.05" fill="#c6ac00"/>
<rect x="359.90" y="594.00" width="18.07" height="8.05" fill="#c4c400"/>
<rect x="359.90" y="602.00" width="18.07" height="8.05" fill="#9db800"/>
<rect x="359.90" y="610.00" width="18.07" height="8.05" fill="#7cad00"/>
<rect x="359.90" y="618.00" width="18.07" height="8.05" fill="#6da800"/>
<rect x="359.90" y="626.00" width="18.07" height="8.05" fill="#509f00"/>
<rect x="359.90" y="634.00" width="18.07" height="8.05" fill="#2f9400"/>
<rect x="359.90" y="642.00" width="18.07" height="8.05" fill="#198e00"/>
<rect x="359.90" y="650.00" width="18.07" height="8.05" fill="#0e8a00"/>
<rect x="359.90" y="658.00" width="18.07" height="8.05" fill="#088504"/>
<rect x="359.90" y="666.00" width="18.07" height="8.05" fill="#077d0c"/>
<rect x="359.90" y="674.00" width="18.07" height="8.05" fill="#077514"/>
<rect x="359.90" y="682.00" width="18.07" height="8.05" fill="#066227"/>
<rect x="359.90" y="690.00" width="18.07" height="128.05" fill="#0c0014"/>
<rect x="377.92" y="170.00" width="18.07" height="8.05" fill="#000289"/>
<rect x="377.92" y="178.00" width="18.07" height="8.05" fill="#000488"/>
<rect x="377.92" y="186.00" width="18.07" height="8.05" fill="#000686"/>
<rect x="377.92" y="194.00" width="18.07" height="8.05" fill="#000785"/>
<rect x="377.92" y="202.00" width="18.07" height="8.05" fill="#010a81"/>
<rect x="377.92" y="210.00" width="18.07" height="8.05" fill="#010e7e"/>
<rect x="377.92" y="218.00" width="18.07" height="8.05" fill="#021a71"/>
<rect x="377.92" y="226.00" width="18.07" height="8.05" fill="#022566"/>
<rect x="377.92" y="234.00" width="18.07" height="8.05" fill="#033555"/>
<rect x="377.92" y="242.00" width="18.07" height="8.05" fill="#054d3d"/>
<rect x="377.92" y="250.00" width="18.07" height="8.05" fill="#055d2c"/>
<rect x="377.92" y="258.00" width="18.07" height="8.05" fill="#077d0c"/>
<rect x="377.92" y="266.00" width="18.07" height="8.05" fill="#198e00"/>
<rect x="377.92" y="274.00" width="18.07" height="8.05" fill="#509f00"/>
<rect x="377.92" y="282.00" width="18.07" height="8.05" fill="#9db800"/>
<rect x="377.92" y="290.00" width="18.07" height="8.05" fill="#c6a200"/>
<rect x="377.92" y="298.00" width="18.07" height="8.05" fill="#cd3d00"/>
<rect x="377.92" y="306.00" width="18.07" height="8.05" fill="#ec0a00"/>
<rect x="377.92" y="314.00" width="18.07" height="8.05" fill="#ff1111"/>
<rect x="377.92" y="322.00" width="18.07" height="8.05" fill="#ff6a6a"/>
<rect x="377.92" y="330.00" width="18.07" height="8.05" fill="#ff9191"/>
<rect x="377.92" y="338.00" width="18.07" height="8.05" fill="#ffa6a6"/>
<rect x="377.92" y="346.00" width="18.07" height="8.05" fill="#ff9191"/>
<rect x="377.92" y="354.00" width="18.07" height="8.05" fill="#ff5f5f"/>
<rect x="377.92" y="362.00" width="18.07" height="8.05" fill="#ff4141"/>
<rect x="377.92" y="370.00" width="18.07" height="8.05" fill="#ff2727"/>
<rect x="377.92" y="378.00" width="18.07" height="8.05" fill="#ff0c0c"/>
<rect x="377.92" y="386.00" width="18.07" height="8.05" fill="#f70400"/>
<rect x="377.92" y="394.00" width="18.07" height="24.05" fill="#f80400"/>
<rect x="377.92" y="418.00" width="18.07" height="8.05" fill="#f80300"/>
<rect x="377.92" y="426.00" width="18.07" height="24.05" fill="#f90300"/>
<rect x="377.92" y="450.00" width="18.07" height="16.05" fill="#fa0300"/>
<rect x="377.92" y="466.00" width="18.07" height="8.05" fill="#ff1e1e"/>
<rect x="377.92" y="474.00" width="18.07" height="8.05" fill="#ff4e4e"/>
<rect x="377.92" y="482.00" width="18.07" height="8.05" fill="#ff6666"/>
<rect x="377.92" y="490.00" width="18.07" height="8.05" fill="#ff7b7b"/>
<rect x="377.92" y="498.00" width="18.07" height="8.05" fill="#ff9090"/>
<rect x="377.92" y="506.00" width="18.07" height="8.05" fill="#ffa4a4"/>
<rect x="377.92" y="514.00" width="18.07" height="8.05" fill="#ffb4b4"/>
<rect x="377.92" y="522.00" width="18.07" height="8.05" fill="#ffacac"/>
<rect x="377.92" y="530.00" width="18.07" height="8.05" fill="#ff9898"/>
<rect x="377.92" y="538.00" width="18.07" height="8.05" fill="#ff6767"/>
<rect x="377.92" y="546.00" width="18.07" height="8.05" fill="#ff3030"/>
<rect x="377.92" y="554.00" width="18.07" height="8.05" fill="#ff0000"/>
<rect x="377.92" y="562.00" width="18.07" height="8.05" fill="#ec0a00"/>
<rect x="377.92" y="570.00" width="18.07" height="8.05" fill="#d01f00"/>
<rect x="377.92" y="578.00" width="18.07" height="8.05" fill="#cc5500"/>
<rect x="377.92" y="586.00" width="18.07" height="8.05" fill="#c88300"/>
<rect x="377.92" y="594.00" width="18.07" height="8.05" fill="#c6a200"/>
<rect x="377.92" y="602.00" width="18.07" height="8.05" fill="#c4c400"/>
<rect x="377.92" y="610.00" width="18.07" height="8.05" fill="#83af00"/>
<rect x="377.92" y="618.00" width="18.07" height="8.05" fill="#6da800"/>
<rect x="377.92" y="626.00" width="18.07" height="8.05" fill="#509f00"/>
<rect x="377.92" y="634.00" width="18.07" height="8.05" fill="#2f9400"/>
<rect x="377.92" y="642.00" width="18.07" height="8.05" fill="#198e00"/>
<rect x="377.92" y="650.00" width="18.07" height="8.05" fill="#088800"/>
<rect x="377.92" y="658.00" width="18.07" height="8.05" fill="#077d0c"/>
<rect x="377.92" y="666.00" width="18.07" height="8.05" fill="#077514"/>
<rect x="377.92" y="674.00" width="18.07" height="8.05" fill="#066227"/>
<rect x="377.92" y="682.00" width="18.07" height="8.05" fill="#055238"/>
<rect x="377.92" y="690.00" width="18.07" height="128.05" fill="#0c0014"/>
<rect x="395.95" y="170.00" width="18.08" height="8.05" fill="#010a81"/>
<rect x="395.95" y="178.00" width="18.08" height="16.05" fill="#010e7e"/>
<rect x="395.95" y="194.00" width="18.08" height="8.05" fill="#01117b"/>
<rect x="395.95" y="202.00" width="18.08" height="8.05" fill="#021a71"/>
<rect x="395.95" y="210.00" width="18.08" height="8.05" fill="#022269"/>
<rect x="395.95" y="218.00" width="18.08" height="8.05" fill="#032d5d"/>
<rect x="395.95" y="226.00" width="18.08" height="8.05" fill="#043d4d"/>
<rect x="395.95" y="234.00" width="18.08" height="8.05" fill="#055238"/>
<rect x="395.95" y="242.00" width="18.08" height="8.05" fill="#066d1c"/>
<rect x="395.95" y="250.00" width="18.08" height="8.05" fill="#077d0c"/>
<rect x="395.95" y="258.00" width="18.08" height="8.05" fill="#0e8a00"/>
<rect x="395.95" y="266.00" width="18.08" height="8.05" fill="#459c00"/>
<rect x="395.95" y="274.00" width="18.08" height="8.05" fill="#9db800"/>
<rect x="395.95" y="282.00" width="18.08" height="8.05" fill="#c6a200"/>
<rect x="395.95" y="290.00" width="18.08" height="8.05" fill="#cd3d00"/>
<rect x="395.95" y="298.00" width="18.08" height="8.05" fill="#ec0a00"/>
<rect x="395.95" y="306.00" width="18.08" height="8.05" fill="#ff4c4c"/>
<rect x="395.95" y="314.00" width="18.08" height="8.05" fill="#ffafaf"/>
<rect x="395.95" y="322.00" width="18.08" height="16.05" fill="#ffd2d2"/>
<rect x="395.95" y="338.00" width="18.08" height="8.05" fill="#ffc4c4"/>
<rect x="395.95" y="346.00" width="18.08" height="8.05" fill="#ffb5b5"/>
<rect x="395.95" y="354.00" width="18.08" height="8.05" fill="#ff6d6d"/>
<rect x="395.95" y="362.00" width="18.08" height="8.05" fill="#ff4c4c"/>
<rect x="395.95" y="370.00" width="18.08" height="8.05" fill="#ff3030"/>
<rect x="395.95" y="378.00" width="18.08" height="8.05" fill="#ff2222"/>
<rect x="395.95" y="386.00" width="18.08" height="8.05" fill="#ff1010"/>
<rect x="395.95" y="394.00" width="18.08" height="8.05" fill="#ff0c0c"/>
<rect x="395.95" y="402.00" width="18.08" height="8.05" fill="#ff0707"/>
<rect x="395.95" y="410.00" width="18.08" height="8.05" fill="#ff0303"/>
<rect x="395.95" y="418.00" width="18.08" height="8.05" fill="#ff0c0c"/>
<rect x="395.95" y="426.00" width="18.08" height="8.05" fill="#ff1616"/>
<rect x="395.95" y="434.00" width="18.08" height="8.05" fill="#ff2020"/>
<rect x="395.95" y="442.00" width="18.08" height="8.05" fill="#ff3030"/>
<rect x="395.95" y="450.00" width="18.08" height="8.05" fill="#ff4444"/>
<rect x="395.95" y="458.00" width="18.08" height="8.05" fill="#ff7a7a"/>
<rect x="395.95" y="466.00" width="18.08" height="8.05" fill="#ffa2a2"/>
<rect x="395.95" y="474.00" width="18.08" height="8.05" fill="#ffbcbc"/>
<rect x="395.95" y="482.00" width="18.08" height="8.05" fill="#ffcfcf"/>
<rect x="395.95" y="490.00" width="18.08" height="8.05" fill="#ffe3e3"/>
<rect x="395.95" y="498.00" width="18.08" height="8.05" fill="#fffefe"/>
<rect x="395.95" y="506.00" width="18.08" height="32.05" fill="#ffffff"/>
<rect x="395.95" y="538.00" width="18.08" height="8.05" fill="#fffdfd"/>
<rect x="395.95" y="546.00" width="18.08" height="8.05" fill="#ffe2e2"/>
<rect x="395.95" y="554.00" width="18.08" height="8.05" fill="#ff7f7f"/>
<rect x="395.95" y="562.00" width="18.08" height="8.05" fill="#ff2020"/>
<rect x="395.95" y="570.00" width="18.08" height="8.05" fill="#ec0a00"/>
<rect x="395.95" y="578.00" width="18.08" height="8.05" fill="#d01f00"/>
<rect x="395.95" y="586.00" width="18.08" height="8.05" fill="#cb6500"/>
<rect x="395.95" y="594.00" width="18.08" height="8.05" fill="#c79800"/>
<rect x="395.95" y="602.00" width="18.08" height="8.05" fill="#c4c400"/>
<rect x="395.95" y="610.00" width="18.08" height="8.05" fill="#7cad00"/>
<rect x="395.95" y="618.00" width="18.08" height="8.05" fill="#509f00"/>
<rect x="395.95" y="626.00" width="18.08" height="8.05" fill="#2f9400"/>
<rect x="395.95" y="634.00" width="18.08" height="8.05" fill="#138b00"/>
<rect x="395.95" y="642.00" width="18.08" height="8.05" fill="#088504"/>
<rect x="395.95" y="650.00" width="18.08" height="8.05" fill="#077514"/>
<rect x="395.95" y="658.00" width="18.08" height="8.05" fill="#066227"/>
<rect x="395.95" y="666.00" width="18.08" height="8.05" fill="#055534"/>
<rect x="395.95" y="674.00" width="18.08" height="8.05" fill="#044545"/>
<rect x="395.95" y="682.00" width="18.08" height="8.05" fill="#033a50"/>
<rect x="395.95" y="690.00" width="18.08" height="8.05" fill="#022a61"/>
<rect x="395.95" y="698.00" width="18.08" height="120.05" fill="#0c0014"/>
<rect x="413.98" y="170.00" width="18.07" height="8.05" fill="#010e7e"/>
<rect x="413.98" y="178.00" width="18.07" height="8.05" fill="#011279"/>
<rect x="413.98" y="186.00" width="18.07" height="8.05" fill="#011774"/>
<rect x="413.98" y="194.00" width="18.07" height="8.05" fill="#021d6e"/>
<rect x="413.98" y="202.00" width="18.07" height="8.05" fill="#022566"/>
<rect x="413.98" y="210.00" width="18.07" height="8.05" fill="#032d5d"/>
<rect x="413.98" y="218.00" width="18.07" height="8.05" fill="#043d4d"/>
<rect x="413.98" y="226.00" width="18.07" height="8.05" fill="#054d3d"/>
<rect x="413.98" y="234.00" width="18.07" height="8.05" fill="#066227"/>
<rect x="413.98" y="242.00" width="18.07" height="8.05" fill="#077514"/>
<rect x="413.98" y="250.00" width="18.07" height="8.05" fill="#088107"/>
<rect x="413.98" y="258.00" width="18.07" height="8.05" fill="#2b9300"/>
<rect x="413.98" y="266.00" width="18.07" height="8.05" fill="#71aa00"/>
<rect x="413.98" y="274.00" width="18.07" height="8.05" fill="#c4c400"/>
<rect x="413.98" y="282.00" width="18.07" height="8.05" fill="#ca6f00"/>
<rect x="413.98" y="290.00" width="18.07" height="8.05" fill="#dc1200"/>
<rect x="413.98" y="298.00" width="18.07" height="8.05" fill="#ff1111"/>
<rect x="413.98" y="306.00" width="18.07" height="8.05" fill="#ffb5b5"/>
<rect x="413.98" y="314.00" width="18.07" height="8.05" fill="#fff0f0"/>
<rect x="413.98" y="322.00" width="18.07" height="16.05" fill="#ffffff"/>
<rect x="413.98" y="338.00" width="18.07" height="8.05" fill="#ffe1e1"/>
<rect x="413.98" y="346.00" width="18.07" height="8.05" fill="#ffd2d2"/>
<rect x="413.98" y="354.00" width="18.07" height="8.05" fill="#ffc6c6"/>
<rect x="413.98" y="362.00" width="18.07" height="8.05" fill="#ffa5a5"/>
<rect x="413.98" y="370.00" width="18.07" height="8.05" fill="#ff8181"/>
<rect x="413.98" y="378.00" width="18.07" height="8.05" fill="#ff6060"/>
<rect x="413.98" y="386.00" width="18.07" height="24.05" fill="#ff2f2f"/>
<rect x="413.98" y="410.00" width="18.07" height="8.05" fill="#ff3030"/>
<rect x="413.98" y="418.00" width="18.07" height="8.05" fill="#ff2f2f"/>
<rect x="413.98" y="426.00" width="18.07" height="8.05" fill="#ff3838"/>
<rect x="413.98" y="434.00" width="18.07" height="8.05" fill="#ff3e3e"/>
<rect x="413.98" y="442.00" width="18.07" height="8.05" fill="#ff5252"/>
<rect x="413.98" y="450.00" width="18.07" height="8.05" fill="#ff7070"/>
<rect x="413.98" y="458.00" width="18.07" height="8.05" fill="#ff9494"/>
<rect x="413.98" y="466.00" width="18.07" height="8.05" fill="#ffbebe"/>
<rect x="413.98" y="474.00" width="18.07" height="8.05" fill="#ffe7e7"/>
<rect x="413.98" y="482.00" width="18.07" height="80.05" fill="#ffffff"/>
<rect x="413.98" y="562.00" width="18.07" height="8.05" fill="#ffc4c4"/>
<rect x="413.98" y="570.00" width="18.07" height="8.05" fill="#ff2f2f"/>
<rect x="413.98" y="578.00" width="18.07" height="8.05" fill="#f40500"/>
<rect x="413.98" y="586.00" width="18.07" height="8.05" fill="#d91300"/>
<rect x="413.98" y="594.00" width="18.07" height="8.05" fill="#cd4700"/>
<rect x="413.98" y="602.00" width="18.07" height="8.05" fill="#c79800"/>
<rect x="413.98" y="610.00" width="18.07" height="8.05" fill="#a8bb00"/>
<rect x="413.98" y="618.00" width="18.07" height="8.05" fill="#66a600"/>
<rect x="413.98" y="626.00" width="18.07" height="8.05" fill="#249100"/>
<rect x="413.98" y="634.00" width="18.07" height="8.05" fill="#088800"/>
<rect x="413.98" y="642.00" width="18.07" height="8.05" fill="#077514"/>
<rect x="413.98" y="650.00" width="18.07" height="8.05" fill="#066227"/>
<rect x="413.98" y="658.00" width="18.07" height="8.05" fill="#055238"/>
<rect x="413.98" y="666.00" width="18.07" height="8.05" fill="#043d4d"/>
<rect x="413.98" y="674.00" width="18.07" height="8.05" fill="#033258"/>
<rect x="413.98" y="682.00" width="18.07" height="8.05" fill="#022566"/>
<rect x="413.98" y="690.00" width="18.07" height="8.05" fill="#021a71"/>
<rect x="413.98" y="698.00" width="18.07" height="120.05" fill="#0c0014"/>
<rect x="432.00" y="170.00" width="18.07" height="8.05" fill="#010e7e"/>
<rect x="432.00" y="178.00" width="18.07" height="8.05" fill="#011279"/>
<rect x="432.00" y="186.00" width="18.07" height="8.05" fill="#011774"/>
<rect x="432.00" y="194.00" width="18.07" height="8.05" fill="#021d6e"/>
<rect x="432.00" y="202.00" width="18.07" height="8.05" fill="#022566"/>
<rect x="432.00" y="210.00" width="18.07" height="8.05" fill="#032d5d"/>
<rect x="432.00" y="218.00" width="18.07" height="8.05" fill="#043d4d"/>
<rect x="432.00" y="226.00" width="18.07" height="8.05" fill="#054d3d"/>
<rect x="432.00" y="234.00" width="18.07" height="8.05" fill="#066227"/>
<rect x="432.00" y="242.00" width="18.07" height="8.05" fill="#077514"/>
<rect x="432.00" y="250.00" width="18.07" height="8.05" fill="#088107"/>
<rect x="432.00" y="258.00" width="18.07" height="8.05" fill="#2b9300"/>
<rect x="432.00" y="266.00" width="18.07" height="8.05" fill="#62a500"/>
<rect x="432.00" y="274.00" width="18.07" height="8.05" fill="#b9c100"/>
<rect x="432.00" y="282.00" width="18.07" height="8.05" fill="#cb6500"/>
<rect x="432.00" y="290.00" width="18.07" height="8.05" fill="#da1300"/>
<rect x="432.00" y="298.00" width="18.07" height="8.05" fill="#ff0202"/>
<rect x="432.00" y="306.00" width="18.07" height="8.05" fill="#ffa0a0"/>
<rect x="432.00" y="314.00" width="18.07" height="8.05" fill="#fff9f9"/>
<rect x="432.00" y="322.00" width="18.07" height="24.05" fill="#ffffff"/>
<rect x="432.00" y="346.00" width="18.07" height="8.05" fill="#fff0f0"/>
<rect x="432.00" y="354.00" width="18.07" height="8.05" fill="#ffd2d2"/>
<rect x="432.00" y="362.00" width="18.07" height="8.05" fill="#ffb5b5"/>
<rect x="432.00" y="370.00" width="18.07" height="8.05" fill="#ff9393"/>
<rect x="432.00" y="378.00" width="18.07" height="8.05" fill="#ff8181"/>
<rect x="432.00" y="386.00" width="18.07" height="8.05" fill="#ff5b5b"/>
<rect x="432.00" y="394.00" width="18.07" height="8.05" fill="#ff5959"/>
<rect x="432.00" y="402.00" width="18.07" height="8.05" fill="#ff5757"/>
<rect x="432.00" y="410.00" width="18.07" height="8.05" fill="#ff5656"/>
<rect x="432.00" y="418.00" width="18.07" height="8.05" fill="#ff5a5a"/>
<rect x="432.00" y="426.00" width="18.07" height="8.05" fill="#ff5f5f"/>
<rect x="432.00" y="434.00" width="18.07" height="8.05" fill="#ff6464"/>
<rect x="432.00" y="442.00" width="18.07" height="8.05" fill="#ff8787"/>
<rect x="432.00" y="450.00" width="18.07" height="8.05" fill="#ffa9a9"/>
<rect x="432.00" y="458.00" width="18.07" height="8.05" fill="#ffc5c5"/>
<rect x="432.00" y="466.00" width="18.07" height="8.05" fill="#ffe0e0"/>
<rect x="432.00" y="474.00" width="18.07" height="96.05" fill="#ffffff"/>
<rect x="432.00" y="570.00" width="18.07" height="8.05" fill="#fff6f6"/>
<rect x="432.00" y="578.00" width="18.07" height="8.05" fill="#ff5b5b"/>
<rect x="432.00" y="586.00" width="18.07" height="8.05" fill="#ec0a00"/>
<rect x="432.00" y="594.00" width="18.07" height="8.05" fill="#cb5b00"/>
<rect x="432.00" y="602.00" width="18.07" height="8.05" fill="#c4c000"/>
<rect x="432.00" y="610.00" width="18.07" height="8.05" fill="#66a600"/>
<rect x="432.00" y="618.00" width="18.07" height="8.05" fill="#249100"/>
<rect x="432.00" y="626.00" width="18.07" height="8.05" fill="#088504"/>
<rect x="432.00" y="634.00" width="18.07" height="8.05" fill="#066d1c"/>
<rect x="432.00" y="642.00" width="18.07" height="8.05" fill="#055238"/>
<rect x="432.00" y="650.00" width="18.07" height="8.05" fill="#043d4d"/>
<rect x="432.00" y="658.00" width="18.07" height="8.05" fill="#032d5d"/>
<rect x="432.00" y="666.00" width="18.07" height="8.05" fill="#02216a"/>
<rect x="432.00" y="674.00" width="18.07" height="8.05" fill="#011676"/>
<rect x="432.00" y="682.00" width="18.07" height="8.05" fill="#010e7e"/>
<rect x="432.00" y="690.00" width="18.07" height="8.05" fill="#000686"/>
<rect x="432.00" y="698.00" width="18.07" height="8.05" fill="#00018b"/>
<rect x="432.00" y="706.00" width="18.07" height="112.05" fill="#0c0014"/>
<rect x="450.02" y="170.00" width="18.07" height="8.05" fill="#010e7e"/>
<rect x="450.02" y="178.00" width="18.07" height="8.05" fill="#011279"/>
<rect x="450.02" y="186.00" width="18.07" height="8.05" fill="#011973"/>
<rect x="450.02" y="194.00" width="18.07" height="8.05" fill="#021d6e"/>
<rect x="450.02" y="202.00" width="18.07" height="8.05" fill="#022467"/>
<rect x="450.02" y="210.00" width="18.07" height="8.05" fill="#022a61"/>
<rect x="450.02" y="218.00" width="18.07" height="8.05" fill="#033258"/>
<rect x="450.02" y="226.00" width="18.07" height="8.05" fill="#043d4d"/>
<rect x="450.02" y="234.00" width="18.07" height="8.05" fill="#054d3d"/>
<rect x="450.02" y="242.00" width="18.07" height="8.05" fill="#066227"/>
<rect x="450.02" y="250.00" width="18.07" height="8.05" fill="#077514"/>
<rect x="450.02" y="258.00" width="18.07" height="8.05" fill="#0e8a00"/>
<rect x="450.02" y="266.00" width="18.07" height="8.05" fill="#2f9400"/>
<rect x="450.02" y="274.00" width="18.07" height="8.05" fill="#71aa00"/>
<rect x="450.02" y="282.00" width="18.07" height="8.05" fill="#c4c000"/>
<rect x="450.02" y="290.00" width="18.07" height="8.05" fill="#cc5700"/>
<rect x="450.02" y="298.00" width="18.07" height="8.05" fill="#e01000"/>
<rect x="450.02" y="306.00" width="18.07" height="8.05" fill="#ff2f2f"/>
<rect x="450.02" y="314.00" width="18.07" height="8.05" fill="#ffc4c4"/>
<rect x="450.02" y="322.00" width="18.07" height="8.05" fill="#fffcfc"/>
<rect x="450.02" y="330.00" width="18.07" height="32.05" fill="#ffffff"/>
<rect x="450.02" y="362.00" width="18.07" height="8.05" fill="#fffefe"/>
<rect x="450.02" y="370.00" width="18.07" height="8.05" fill="#ffd5d5"/>
<rect x="450.02" y="378.00" width="18.07" height="8.05" fill="#ff9e9e"/>
<rect x="450.02" y="386.00" width="18.07" height="8.05" fill="#ffa6a6"/>
<rect x="450.02" y="394.00" width="18.07" height="8.05" fill="#ff8686"/>
<rect x="450.02" y="402.00" width="18.07" height="8.05" fill="#ff7575"/>
<rect x="450.02" y="410.00" width="18.07" height="32.05" fill="#ff6a6a"/>
<rect x="450.02" y="442.00" width="18.07" height="8.05" fill="#ff7575"/>
<rect x="450.02" y="450.00" width="18.07" height="8.05" fill="#ff8484"/>
<rect x="450.02" y="458.00" width="18.07" height="8.05" fill="#ffa7a7"/>
<rect x="450.02" y="466.00" width="18.07" height="8.05" fill="#ffb9b9"/>
<rect x="450.02" y="474.00" width="18.07" height="8.05" fill="#ffdddd"/>
<rect x="450.02" y="482.00" width="18.07" height="104.05" fill="#ffffff"/>
<rect x="450.02" y="586.00" width="18.07" height="8.05" fill="#ffb7b7"/>
<rect x="450.02" y="594.00" width="18.07" height="8.05" fill="#f80400"/>
<rect x="450.02" y="602.00" width="18.07" height="8.05" fill="#d01b00"/>
<rect x="450.02" y="610.00" width="18.07" height="8.05" fill="#c4c100"/>
<rect x="450.02" y="618.00" width="18.07" height="8.05" fill="#5ea300"/>
<rect x="450.02" y="626.00" width="18.07" height="8.05" fill="#088800"/>
<rect x="450.02" y="634.00" width="18.07" height="8.05" fill="#066b1e"/>
<rect x="450.02" y="642.00" width="18.07" height="8.05" fill="#055138"/>
<rect x="450.02" y="650.00" width="18.07" height="8.05" fill="#033457"/>
<rect x="450.02" y="658.00" width="18.07" height="8.05" fill="#022368"/>
<rect x="450.02" y="666.00" width="18.07" height="8.05" fill="#011576"/>
<rect x="450.02" y="674.00" width="18.07" height="8.05" fill="#010983"/>
<rect x="450.02" y="682.00" width="18.07" height="8.05" fill="#00018b"/>
<rect x="450.02" y="690.00" width="18.07" height="24.05" fill="#01008b"/>
<rect x="450.02" y="714.00" width="18.07" height="104.05" fill="#08000d"/>
<rect x="468.05" y="170.00" width="18.07" height="8.05" fill="#000000"/>
<rect x="468.05" y="178.00" width="18.07" height="8.05" fill="#010a81"/>
<rect x="468.05" y="186.00" width="18.07" height="8.05" fill="#010e7e"/>
<rect x="468.05" y="194.00" width="18.07" height="8.05" fill="#011279"/>
<rect x="468.05" y="202.00" width="18.07" height="8.05" fill="#011973"/>
<rect x="468.05" y="210.00" width="18.07" height="8.05" fill="#021d6e"/>
<rect x="468.05" y="218.00" width="18.07" height="8.05" fill="#022566"/>
<rect x="468.05" y="226.00" width="18.07" height="8.05" fill="#032d5d"/>
<rect x="468.05" y="234.00" width="18.07" height="8.05" fill="#033a50"/>
<rect x="468.05" y="242.00" width="18.07" height="8.05" fill="#044545"/>
<rect x="468.05" y="250.00" width="18.07" height="8.05" fill="#055534"/>
<rect x="468.05" y="258.00" width="18.07" height="8.05" fill="#066d1c"/>
<rect x="468.05" y="266.00" width="18.07" height="8.05" fill="#088504"/>
<rect x="468.05" y="274.00" width="18.07" height="8.05" fill="#249100"/>
<rect x="468.05" y="282.00" width="18.07" height="8.05" fill="#6da800"/>
<rect x="468.05" y="290.00" width="18.07" height="8.05" fill="#c4c400"/>
<rect x="468.05" y="298.00" width="18.07" height="8.05" fill="#cb6500"/>
<rect x="468.05" y="306.00" width="18.07" height="8.05" fill="#da1300"/>
<rect x="468.05" y="314.00" width="18.07" height="8.05" fill="#ff1717"/>
<rect x="468.05" y="322.00" width="18.07" height="8.05" fill="#ffbebe"/>
<rect x="468.05" y="330.00" width="18.07" height="56.05" fill="#ffffff"/>
<rect x="468.05" y="386.00" width="18.07" height="8.05" fill="#ffe7e7"/>
<rect x="468.05" y="394.00" width="18.07" height="8.05" fill="#ffacac"/>
<rect x="468.05" y="402.00" width="18.07" height="8.05" fill="#ff9292"/>
<rect x="468.05" y="410.00" width="18.07" height="8.05" fill="#ff8f8f"/>
<rect x="468.05" y="418.00" width="18.07" height="48.05" fill="#ff6a6a"/>
<rect x="468.05" y="466.00" width="18.07" height="8.05" fill="#ff7f7f"/>
<rect x="468.05" y="474.00" width="18.07" height="8.05" fill="#ffa7a7"/>
<rect x="468.05" y="482.00" width="18.07" height="8.05" fill="#ffc7c7"/>
<rect x="468.05" y="490.00" width="18.07" height="8.05" fill="#ffe3e3"/>
<rect x="468.05" y="498.00" width="18.07" height="8.05" fill="#fffefe"/>
<rect x="468.05" y="506.00" width="18.07" height="96.05" fill="#ffffff"/>
<rect x="468.05" y="602.00" width="18.07" height="8.05" fill="#ff7070"/>
<rect x="468.05" y="610.00" width="18.07" height="8.05" fill="#e40e00"/>
<rect x="468.05" y="618.00" width="18.07" height="8.05" fill="#c97c00"/>
<rect x="468.05" y="626.00" width="18.07" height="8.05" fill="#81af00"/>
<rect x="468.05" y="634.00" width="18.07" height="8.05" fill="#1f8f00"/>
<rect x="468.05" y="642.00" width="18.07" height="8.05" fill="#066d1c"/>
<rect x="468.05" y="650.00" width="18.07" height="8.05" fill="#055733"/>
<rect x="468.05" y="658.00" width="18.07" height="8.05" fill="#033b50"/>
<rect x="468.05" y="666.00" width="18.07" height="8.05" fill="#022566"/>
<rect x="468.05" y="674.00" width="18.07" height="8.05" fill="#011675"/>
<rect x="468.05" y="682.00" width="18.07" height="8.05" fill="#000883"/>
<rect x="468.05" y="690.00" width="18.07" height="40.05" fill="#01008b"/>
<rect x="468.05" y="730.00" width="18.07" height="88.05" fill="#08000d"/>
<rect x="486.07" y="170.00" width="18.08" height="24.05" fill="#000000"/>
<rect x="486.07" y="194.00" width="18.08" height="8.05" fill="#000686"/>
<rect x="486.07" y="202.00" width="18.08" height="8.05" fill="#010a81"/>
<rect x="486.07" y="210.00" width="18.08" height="8.05" fill="#01117b"/>
<rect x="486.07" y="218.00" width="18.08" height="8.05" fill="#011774"/>
<rect x="486.07" y="226.00" width="18.08" height="8.05" fill="#021d6e"/>
<rect x="486.07" y="234.00" width="18.08" height="8.05" fill="#022566"/>
<rect x="486.07" y="242.00" width="18.08" height="8.05" fill="#03315a"/>
<rect x="486.07" y="250.00" width="18.08" height="8.05" fill="#043d4d"/>
<rect x="486.07" y="258.00" width="18.08" height="8.05" fill="#054d3d"/>
<rect x="486.07" y="266.00" width="18.08" height="8.05" fill="#066524"/>
<rect x="486.07" y="274.00" width="18.08" height="8.05" fill="#088107"/>
<rect x="486.07" y="282.00" width="18.08" height="8.05" fill="#249100"/>
<rect x="486.07" y="290.00" width="18.08" height="8.05" fill="#6aa700"/>
<rect x="486.07" y="298.00" width="18.08" height="8.05" fill="#c4c400"/>
<rect x="486.07" y="306.00" width="18.08" height="8.05" fill="#ca6f00"/>
<rect x="486.07" y="314.00" width="18.08" height="8.05" fill="#d61500"/>
<rect x="486.07" y="322.00" width="18.08" height="8.05" fill="#fe0100"/>
<rect x="486.07" y="330.00" width="18.08" height="8.05" fill="#ffafaf"/>
<rect x="486.07" y="338.00" width="18.08" height="56.05" fill="#ffffff"/>
<rect x="486.07" y="394.00" width="18.08" height="8.05" fill="#ffe6e6"/>
<rect x="486.07" y="402.00" width="18.08" height="8.05" fill="#ffc4c4"/>
<rect x="486.07" y="410.00" width="18.08" height="8.05" fill="#ff8f8f"/>
<rect x="486.07" y="418.00" width="18.08" height="8.05" fill="#ff6868"/>
<rect x="486.07" y="426.00" width="18.08" height="8.05" fill="#ff5959"/>
<rect x="486.07" y="434.00" width="18.08" height="8.05" fill="#ff4d4d"/>
<rect x="486.07" y="442.00" width="18.08" height="32.05" fill="#ff4c4c"/>
<rect x="486.07" y="474.00" width="18.08" height="8.05" fill="#ff5e5e"/>
<rect x="486.07" y="482.00" width="18.08" height="8.05" fill="#ff8d8d"/>
<rect x="486.07" y="490.00" width="18.08" height="8.05" fill="#ffb0b0"/>
<rect x="486.07" y="498.00" width="18.08" height="8.05" fill="#ffcccc"/>
<rect x="486.07" y="506.00" width="18.08" height="8.05" fill="#fff1f1"/>
<rect x="486.07" y="514.00" width="18.08" height="96.05" fill="#ffffff"/>
<rect x="486.07" y="610.00" width="18.08" height="8.05" fill="#fffdfd"/>
<rect x="486.07" y="618.00" width="18.08" height="8.05" fill="#ff1313"/>
<rect x="486.07" y="626.00" width="18.08" height="8.05" fill="#cf2b00"/>
<rect x="486.07" y="634.00" width="18.08" height="8.05" fill="#c6ab00"/>
<rect x="486.07" y="642.00" width="18.08" height="8.05" fill="#70a900"/>
<rect x="486.07" y="650.00" width="18.08" height="8.05" fill="#259100"/>
<rect x="486.07" y="658.00" width="18.08" height="8.05" fill="#077a0e"/>
<rect x="486.07" y="666.00" width="18.08" height="8.05" fill="#065f2a"/>
<rect x="486.07" y="674.00" width="18.08" height="8.05" fill="#044545"/>
<rect x="486.07" y="682.00" width="18.08" height="8.05" fill="#032e5d"/>
<rect x="486.07" y="690.00" width="18.08" height="8.05" fill="#021b70"/>
<rect x="486.07" y="698.00" width="18.08" height="8.05" fill="#010e7d"/>
<rect x="486.07" y="706.00" width="18.08" height="8.05" fill="#00028a"/>
<rect x="486.07" y="714.00" width="18.08" height="24.05" fill="#01008b"/>
<rect x="486.07" y="738.00" width="18.08" height="80.05" fill="#040007"/>
<rect x="504.10" y="170.00" width="18.07" height="32.05" fill="#000000"/>
<rect x="504.10" y="202.00" width="18.07" height="8.05" fill="#00018b"/>
<rect x="504.10" y="210.00" width="18.07" height="8.05" fill="#000488"/>
<rect x="504.10" y="218.00" width="18.07" height="8.05" fill="#010983"/>
<rect x="504.10" y="226.00" width="18.07" height="8.05" fill="#010e7e"/>
<rect x="504.10" y="234.00" width="18.07" height="8.05" fill="#011676"/>
<rect x="504.10" y="242.00" width="18.07" height="8.05" fill="#021d6e"/>
<rect x="504.10" y="250.00" width="18.07" height="8.05" fill="#022566"/>
<rect x="504.10" y="258.00" width="18.07" height="8.05" fill="#03315a"/>
<rect x="504.10" y="266.00" width="18.07" height="8.05" fill="#044545"/>
<rect x="504.10" y="274.00" width="18.07" height="8.05" fill="#066029"/>
<rect x="504.10" y="282.00" width="18.07" height="8.05" fill="#077d0c"/>
<rect x="504.10" y="290.00" width="18.07" height="8.05" fill="#198e00"/>
<rect x="504.10" y="298.00" width="18.07" height="8.05" fill="#509f00"/>
<rect x="504.10" y="306.00" width="18.07" height="8.05" fill="#b9c100"/>
<rect x="504.10" y="314.00" width="18.07" height="8.05" fill="#c88300"/>
<rect x="504.10" y="322.00" width="18.07" height="8.05" fill="#d01f00"/>
<rect x="504.10" y="330.00" width="18.07" height="8.05" fill="#f90300"/>
<rect x="504.10" y="338.00" width="18.07" height="8.05" fill="#ff8888"/>
<rect x="504.10" y="346.00" width="18.07" height="56.05" fill="#ffffff"/>
<rect x="504.10" y="402.00" width="18.07" height="8.05" fill="#ffc5c5"/>
<rect x="504.10" y="410.00" width="18.07" height="8.05" fill="#ffa3a3"/>
<rect x="504.10" y="418.00" width="18.07" height="8.05" fill="#ff6565"/>
<rect x="504.10" y="426.00" width="18.07" height="8.05" fill="#ff3c3c"/>
<rect x="504.10" y="434.00" width="18.07" height="8.05" fill="#ff2121"/>
<rect x="504.10" y="442.00" width="18.07" height="40.05" fill="#ff2020"/>
<rect x="504.10" y="482.00" width="18.07" height="8.05" fill="#ff2525"/>
<rect x="504.10" y="490.00" width="18.07" height="8.05" fill="#ff4e4e"/>
<rect x="504.10" y="498.00" width="18.07" height="8.05" fill="#ff6a6a"/>
<rect x="504.10" y="506.00" width="18.07" height="8.05" fill="#ffa8a8"/>
<rect x="504.10" y="514.00" width="18.07" height="8.05" fill="#ffd8d8"/>
<rect x="504.10" y="522.00" width="18.07" height="96.05" fill="#ffffff"/>
<rect x="504.10" y="618.00" width="18.07" height="8.05" fill="#fffbfb"/>
<rect x="504.10" y="626.00" width="18.07" height="8.05" fill="#ffd0d0"/>
<rect x="504.10" y="634.00" width="18.07" height="8.05" fill="#f80400"/>
<rect x="504.10" y="642.00" width="18.07" height="8.05" fill="#cd4900"/>
<rect x="504.10" y="650.00" width="18.07" height="8.05" fill="#c4c300"/>
<rect x="504.10" y="658.00" width="18.07" height="8.05" fill="#6ca800"/>
<rect x="504.10" y="666.00" width="18.07" height="8.05" fill="#148c00"/>
<rect x="504.10" y="674.00" width="18.07" height="8.05" fill="#077414"/>
<rect x="504.10" y="682.00" width="18.07" height="8.05" fill="#055831"/>
<rect x="504.10" y="690.00" width="18.07" height="8.05" fill="#04404a"/>
<rect x="504.10" y="698.00" width="18.07" height="8.05" fill="#032b60"/>
<rect x="504.10" y="706.00" width="18.07" height="8.05" fill="#011972"/>
<rect x="504.10" y="714.00" width="18.07" height="8.05" fill="#010c7f"/>
<rect x="504.10" y="722.00" width="18.07" height="8.05" fill="#00008c"/>
<rect x="504.10" y="730.00" width="18.07" height="24.05" fill="#01008b"/>
<rect x="504.10" y="754.00" width="18.07" height="64.05" fill="#040007"/>
<rect x="522.12" y="170.00" width="18.07" height="48.05" fill="#000000"/>
<rect x="522.12" y="218.00" width="18.07" height="8.05" fill="#01008b"/>
<rect x="522.12" y="226.00" width="18.07" height="8.05" fill="#00018b"/>
<rect x="522.12" y="234.00" width="18.07" height="8.05" fill="#000686"/>
<rect x="522.12" y="242.00" width="18.07" height="8.05" fill="#010a81"/>
<rect x="522.12" y="250.00" width="18.07" height="8.05" fill="#01117b"/>
<rect x="522.12" y="258.00" width="18.07" height="8.05" fill="#011774"/>
<rect x="522.12" y="266.00" width="18.07" height="8.05" fill="#022a61"/>
<rect x="522.12" y="274.00" width="18.07" height="8.05" fill="#043d4d"/>
<rect x="522.12" y="282.00" width="18.07" height="8.05" fill="#055534"/>
<rect x="522.12" y="290.00" width="18.07" height="8.05" fill="#066d1c"/>
<rect x="522.12" y="298.00" width="18.07" height="8.05" fill="#088107"/>
<rect x="522.12" y="306.00" width="18.07" height="8.05" fill="#2f9400"/>
<rect x="522.12" y="314.00" width="18.07" height="8.05" fill="#87b000"/>
<rect x="522.12" y="322.00" width="18.07" height="8.05" fill="#c6a600"/>
<rect x="522.12" y="330.00" width="18.07" height="8.05" fill="#cc4b00"/>
<rect x="522.12" y="338.00" width="18.07" height="8.05" fill="#e80c00"/>
<rect x="522.12" y="346.00" width="18.07" height="8.05" fill="#ff3e3e"/>
<rect x="522.12" y="354.00" width="18.07" height="8.05" fill="#ffbebe"/>
<rect x="522.12" y="362.00" width="18.07" height="40.05" fill="#ffffff"/>
<rect x="522.12" y="402.00" width="18.07" height="8.05" fill="#ffc5c5"/>
<rect x="522.12" y="410.00" width="18.07" height="8.05" fill="#ffa2a2"/>
<rect x="522.12" y="418.00" width="18.07" height="8.05" fill="#ff5454"/>
<rect x="522.12" y="426.00" width="18.07" height="8.05" fill="#ff1e1e"/>
<rect x="522.12" y="434.00" width="18.07" height="8.05" fill="#fd0100"/>
<rect x="522.12" y="442.00" width="18.07" height="48.05" fill="#f70400"/>
<rect x="522.12" y="490.00" width="18.07" height="8.05" fill="#f90300"/>
<rect x="522.12" y="498.00" width="18.07" height="8.05" fill="#ff1e1e"/>
<rect x="522.12" y="506.00" width="18.07" height="8.05" fill="#ff4040"/>
<rect x="522.12" y="514.00" width="18.07" height="8.05" fill="#ff7171"/>
<rect x="522.12" y="522.00" width="18.07" height="8.05" fill="#ffa8a8"/>
<rect x="522.12" y="530.00" width="18.07" height="8.05" fill="#ffdada"/>
<rect x="522.12" y="538.00" width="18.07" height="104.05" fill="#ffffff"/>
<rect x="522.12" y="642.00" width="18.07" height="8.05" fill="#ff7d7d"/>
<rect x="522.12" y="650.00" width="18.07" height="8.05" fill="#ec0a00"/>
<rect x="522.12" y="658.00" width="18.07" height="8.05" fill="#ca7000"/>
<rect x="522.12" y="666.00" width="18.07" height="8.05" fill="#c4bf00"/>
<rect x="522.12" y="674.00" width="18.07" height="8.05" fill="#6ba800"/>
<rect x="522.12" y="682.00" width="18.07" height="8.05" fill="#148c00"/>
<rect x="522.12" y="690.00" width="18.07" height="8.05" fill="#077118"/>
<rect x="522.12" y="698.00" width="18.07" height="8.05" fill="#055a2f"/>
<rect x="522.12" y="706.00" width="18.07" height="8.05" fill="#044347"/>
<rect x="522.12" y="714.00" width="18.07" height="8.05" fill="#032e5d"/>
<rect x="522.12" y="722.00" width="18.07" height="8.05" fill="#021b70"/>
<rect x="522.12" y="730.00" width="18.07" height="8.05" fill="#010e7d"/>
<rect x="522.12" y="738.00" width="18.07" height="8.05" fill="#00018a"/>
<rect x="522.12" y="746.00" width="18.07" height="24.05" fill="#01008b"/>
<rect x="522.12" y="770.00" width="18.07" height="48.05" fill="#040007"/>
<rect x="540.15" y="170.00" width="18.07" height="64.05" fill="#000000"/>
<rect x="540.15" y="234.00" width="18.07" height="8.05" fill="#060085"/>
<rect x="540.15" y="242.00" width="18.07" height="8.05" fill="#030088"/>
<rect x="540.15" y="250.00" width="18.07" height="8.05" fill="#01008b"/>
<rect x="540.15" y="258.00" width="18.07" height="8.05" fill="#000488"/>
<rect x="540.15" y="266.00" width="18.07" height="8.05" fill="#010f7c"/>
<rect x="540.15" y="274.00" width="18.07" height="8.05" fill="#02216a"/>
<rect x="540.15" y="282.00" width="18.07" height="8.05" fill="#032d5d"/>
<rect x="540.15" y="290.00" width="18.07" height="8.05" fill="#04404a"/>
<rect x="540.15" y="298.00" width="18.07" height="8.05" fill="#055534"/>
<rect x="540.15" y="306.00" width="18.07" height="8.05" fill="#066d1c"/>
<rect x="540.15" y="314.00" width="18.07" height="8.05" fill="#088504"/>
<rect x="540.15" y="322.00" width="18.07" height="8.05" fill="#4c9e00"/>
<rect x="540.15" y="330.00" width="18.07" height="8.05" fill="#b7c000"/>
<rect x="540.15" y="338.00" width="18.07" height="8.05" fill="#c97900"/>
<rect x="540.15" y="346.00" width="18.07" height="8.05" fill="#d01d00"/>
<rect x="540.15" y="354.00" width="18.07" height="8.05" fill="#fb0200"/>
<rect x="540.15" y="362.00" width="18.07" height="8.05" fill="#ff6464"/>
<rect x="540.15" y="370.00" width="18.07" height="8.05" fill="#ffcdcd"/>
<rect x="540.15" y="378.00" width="18.07" height="24.05" fill="#ffffff"/>
<rect x="540.15" y="402.00" width="18.07" height="8.05" fill="#ffd4d4"/>
<rect x="540.15" y="410.00" width="18.07" height="8.05" fill="#ffa2a2"/>
<rect x="540.15" y="418.00" width="18.07" height="8.05" fill="#ff5454"/>
<rect x="540.15" y="426.00" width="18.07" height="8.05" fill="#ff1c1c"/>
<rect x="540.15" y="434.00" width="18.07" height="8.05" fill="#f80400"/>
<rect x="540.15" y="442.00" width="18.07" height="8.05" fill="#f40600"/>
<rect x="540.15" y="450.00" width="18.07" height="64.05" fill="#f20700"/>
<rect x="540.15" y="514.00" width="18.07" height="8.05" fill="#fe0100"/>
<rect x="540.15" y="522.00" width="18.07" height="8.05" fill="#ff3131"/>
<rect x="540.15" y="530.00" width="18.07" height="8.05" fill="#ff5a5a"/>
<rect x="540.15" y="538.00" width="18.07" height="8.05" fill="#ffa9a9"/>
<rect x="540.15" y="546.00" width="18.07" height="8.05" fill="#ffe0e0"/>
<rect x="540.15" y="554.00" width="18.07" height="8.05" fill="#fffcfc"/>
<rect x="540.15" y="562.00" width="18.07" height="96.05" fill="#ffffff"/>
<rect x="540.15" y="658.00" width="18.07" height="8.05" fill="#ff2c2c"/>
<rect x="540.15" y="666.00" width="18.07" height="8.05" fill="#e10f00"/>
<rect x="540.15" y="674.00" width="18.07" height="8.05" fill="#ca7000"/>
<rect x="540.15" y="682.00" width="18.07" height="8.05" fill="#c4bf00"/>
<rect x="540.15" y="690.00" width="18.07" height="8.05" fill="#74ab00"/>
<rect x="540.15" y="698.00" width="18.07" height="8.05" fill="#299300"/>
<rect x="540.15" y="706.00" width="18.07" height="8.05" fill="#088701"/>
<rect x="540.15" y="714.00" width="18.07" height="8.05" fill="#066b1e"/>
<rect x="540.15" y="722.00" width="18.07" height="8.05" fill="#055138"/>
<rect x="540.15" y="730.00" width="18.07" height="8.05" fill="#033753"/>
<rect x="540.15" y="738.00" width="18.07" height="8.05" fill="#022368"/>
<rect x="540.15" y="746.00" width="18.07" height="8.05" fill="#011477"/>
<rect x="540.15" y="754.00" width="18.07" height="8.05" fill="#010982"/>
<rect x="540.15" y="762.00" width="18.07" height="8.05" fill="#00028a"/>
<rect x="540.15" y="770.00" width="18.07" height="16.05" fill="#01008b"/>
<rect x="540.15" y="786.00" width="18.07" height="32.05" fill="#040007"/>
<rect x="558.17" y="170.00" width="18.07" height="80.05" fill="#000000"/>
<rect x="558.17" y="250.00" width="18.07" height="8.05" fill="#090083"/>
<rect x="558.17" y="258.00" width="18.07" height="8.05" fill="#040088"/>
<rect x="558.17" y="266.00" width="18.07" height="8.05" fill="#00008c"/>
<rect x="558.17" y="274.00" width="18.07" height="8.05" fill="#000785"/>
<rect x="558.17" y="282.00" width="18.07" height="8.05" fill="#01117b"/>
<rect x="558.17" y="290.00" width="18.07" height="8.05" fill="#021b70"/>
<rect x="558.17" y="298.00" width="18.07" height="8.05" fill="#032b5f"/>
<rect x="558.17" y="306.00" width="18.07" height="8.05" fill="#033b4f"/>
<rect x="558.17" y="314.00" width="18.07" height="8.05" fill="#055931"/>
<rect x="558.17" y="322.00" width="18.07" height="8.05" fill="#088503"/>
<rect x="558.17" y="330.00" width="18.07" height="8.05" fill="#5ca300"/>
<rect x="558.17" y="338.00" width="18.07" height="8.05" fill="#9db800"/>
<rect x="558.17" y="346.00" width="18.07" height="8.05" fill="#c7a000"/>
<rect x="558.17" y="354.00" width="18.07" height="8.05" fill="#cd4700"/>
<rect x="558.17" y="362.00" width="18.07" height="8.05" fill="#e20f00"/>
<rect x="558.17" y="370.00" width="18.07" height="8.05" fill="#ff1111"/>
<rect x="558.17" y="378.00" width="18.07" height="8.05" fill="#ff9494"/>
<rect x="558.17" y="386.00" width="18.07" height="8.05" fill="#ffd1d1"/>
<rect x="558.17" y="394.00" width="18.07" height="8.05" fill="#ffe8e8"/>
<rect x="558.17" y="402.00" width="18.07" height="8.05" fill="#ffeaea"/>
<rect x="558.17" y="410.00" width="18.07" height="8.05" fill="#ffd0d0"/>
<rect x="558.17" y="418.00" width="18.07" height="8.05" fill="#ff9d9d"/>
<rect x="558.17" y="426.00" width="18.07" height="8.05" fill="#ff5959"/>
<rect x="558.17" y="434.00" width="18.07" height="8.05" fill="#ff3030"/>
<rect x="558.17" y="442.00" width="18.07" height="8.05" fill="#fc0100"/>
<rect x="558.17" y="450.00" width="18.07" height="64.05" fill="#f70400"/>
<rect x="558.17" y="514.00" width="18.07" height="8.05" fill="#ff0b0b"/>
<rect x="558.17" y="522.00" width="18.07" height="8.05" fill="#ff2222"/>
<rect x="558.17" y="530.00" width="18.07" height="8.05" fill="#ff4646"/>
<rect x="558.17" y="538.00" width="18.07" height="8.05" fill="#ff8383"/>
<rect x="558.17" y="546.00" width="18.07" height="8.05" fill="#ffc2c2"/>
<rect x="558.17" y="554.00" width="18.07" height="8.05" fill="#fffafa"/>
<rect x="558.17" y="562.00" width="18.07" height="104.05" fill="#ffffff"/>
<rect x="558.17" y="666.00" width="18.07" height="8.05" fill="#ffdddd"/>
<rect x="558.17" y="674.00" width="18.07" height="8.05" fill="#ff0e0e"/>
<rect x="558.17" y="682.00" width="18.07" height="8.05" fill="#db1200"/>
<rect x="558.17" y="690.00" width="18.07" height="8.05" fill="#ca7000"/>
<rect x="558.17" y="698.00" width="18.07" height="8.05" fill="#c5b200"/>
<rect x="558.17" y="706.00" width="18.07" height="8.05" fill="#91b400"/>
<rect x="558.17" y="714.00" width="18.07" height="8.05" fill="#54a000"/>
<rect x="558.17" y="722.00" width="18.07" height="8.05" fill="#1d8f00"/>
<rect x="558.17" y="730.00" width="18.07" height="8.05" fill="#098800"/>
<rect x="558.17" y="738.00" width="18.07" height="8.05" fill="#066d1c"/>
<rect x="558.17" y="746.00" width="18.07" height="8.05" fill="#055b2e"/>
<rect x="558.17" y="754.00" width="18.07" height="8.05" fill="#043d4d"/>
<rect x="558.17" y="762.00" width="18.07" height="8.05" fill="#032e5c"/>
<rect x="558.17" y="770.00" width="18.07" height="8.05" fill="#021d6e"/>
<rect x="558.17" y="778.00" width="18.07" height="8.05" fill="#010e7d"/>
<rect x="558.17" y="786.00" width="18.07" height="8.05" fill="#000488"/>
<rect x="558.17" y="794.00" width="18.07" height="8.05" fill="#000289"/>
<rect x="558.17" y="802.00" width="18.07" height="16.05" fill="#040007"/>
<rect x="576.20" y="170.00" width="18.07" height="96.05" fill="#000000"/>
<rect x="576.20" y="266.00" width="18.07" height="8.05" fill="#00028a"/>
<rect x="576.20" y="274.00" width="18.07" height="8.05" fill="#010982"/>
<rect x="576.20" y="282.00" width="18.07" height="8.05" fill="#011478"/>
<rect x="576.20" y="290.00" width="18.07" height="8.05" fill="#02216a"/>
<rect x="576.20" y="298.00" width="18.07" height="8.05" fill="#032e5d"/>
<rect x="576.20" y="306.00" width="18.07" height="8.05" fill="#044248"/>
<rect x="576.20" y="314.00" width="18.07" height="8.05" fill="#066425"/>
<rect x="576.20" y="322.00" width="18.07" height="8.05" fill="#088602"/>
<rect x="576.20" y="330.00" width="18.07" height="8.05" fill="#1b8e00"/>
<rect x="576.20" y="338.00" width="18.07" height="8.05" fill="#66a600"/>
<rect x="576.20" y="346.00" width="18.07" height="8.05" fill="#9eb800"/>
<rect x="576.20" y="354.00" width="18.07" height="8.05" fill="#c6ab00"/>
<rect x="576.20" y="362.00" width="18.07" height="8.05" fill="#cb5900"/>
<rect x="576.20" y="370.00" width="18.07" height="8.05" fill="#e10f00"/>
<rect x="576.20" y="378.00" width="18.07" height="8.05" fill="#ff1515"/>
<rect x="576.20" y="386.00" width="18.07" height="8.05" fill="#ffa6a6"/>
<rect x="576.20" y="394.00" width="18.07" height="8.05" fill="#fff0f0"/>
<rect x="576.20" y="402.00" width="18.07" height="32.05" fill="#ffffff"/>
<rect x="576.20" y="434.00" width="18.07" height="8.05" fill="#ffe2e2"/>
<rect x="576.20" y="442.00" width="18.07" height="8.05" fill="#ffa3a3"/>
<rect x="576.20" y="450.00" width="18.07" height="8.05" fill="#ff6c6c"/>
<rect x="576.20" y="458.00" width="18.07" height="8.05" fill="#ff4b4b"/>
<rect x="576.20" y="466.00" width="18.07" height="8.05" fill="#ff2f2f"/>
<rect x="576.20" y="474.00" width="18.07" height="40.05" fill="#ff1111"/>
<rect x="576.20" y="514.00" width="18.07" height="8.05" fill="#ff2e2e"/>
<rect x="576.20" y="522.00" width="18.07" height="8.05" fill="#ff4f4f"/>
<rect x="576.20" y="530.00" width="18.07" height="8.05" fill="#ff7e7e"/>
<rect x="576.20" y="538.00" width="18.07" height="8.05" fill="#ffb1b1"/>
<rect x="576.20" y="546.00" width="18.07" height="8.05" fill="#ffd2d2"/>
<rect x="576.20" y="554.00" width="18.07" height="8.05" fill="#fffbfb"/>
<rect x="576.20" y="562.00" width="18.07" height="112.05" fill="#ffffff"/>
<rect x="576.20" y="674.00" width="18.07" height="8.05" fill="#fffdfd"/>
<rect x="576.20" y="682.00" width="18.07" height="8.05" fill="#ff6565"/>
<rect x="576.20" y="690.00" width="18.07" height="8.05" fill="#f70400"/>
<rect x="576.20" y="698.00" width="18.07" height="8.05" fill="#d01800"/>
<rect x="576.20" y="706.00" width="18.07" height="8.05" fill="#c88400"/>
<rect x="576.20" y="714.00" width="18.07" height="8.05" fill="#c4c000"/>
<rect x="576.20" y="722.00" width="18.07" height="8.05" fill="#7bad00"/>
<rect x="576.20" y="730.00" width="18.07" height="8.05" fill="#489c00"/>
<rect x="576.20" y="738.00" width="18.07" height="8.05" fill="#158c00"/>
<rect x="576.20" y="746.00" width="18.07" height="8.05" fill="#088800"/>
<rect x="576.20" y="754.00" width="18.07" height="8.05" fill="#066c1c"/>
<rect x="576.20" y="762.00" width="18.07" height="8.05" fill="#055336"/>
<rect x="576.20" y="770.00" width="18.07" height="8.05" fill="#043d4d"/>
<rect x="576.20" y="778.00" width="18.07" height="8.05" fill="#032e5c"/>
<rect x="576.20" y="786.00" width="18.07" height="8.05" fill="#021f6c"/>
<rect x="576.20" y="794.00" width="18.07" height="8.05" fill="#011675"/>
<rect x="576.20" y="802.00" width="18.07" height="8.05" fill="#000884"/>
<rect x="576.20" y="810.00" width="18.07" height="8.05" fill="#01008b"/>
<rect x="594.22" y="170.00" width="18.08" height="112.05" fill="#000000"/>
<rect x="594.22" y="282.00" width="18.08" height="8.05" fill="#01127a"/>
<rect x="594.22" y="290.00" width="18.08" height="8.05" fill="#021a71"/>
<rect x="594.22" y="298.00" width="18.08" height="8.05" fill="#022962"/>
<rect x="594.22" y="306.00" width="18.08" height="8.05" fill="#033a50"/>
<rect x="594.22" y="314.00" width="18.08" height="8.05" fill="#044c3e"/>
<rect x="594.22" y="322.00" width="18.08" height="8.05" fill="#065e2b"/>
<rect x="594.22" y="330.00" width="18.08" height="8.05" fill="#077315"/>
<rect x="594.22" y="338.00" width="18.08" height="8.05" fill="#0e8a00"/>
<rect x="594.22" y="346.00" width="18.08" height="8.05" fill="#519f00"/>
<rect x="594.22" y="354.00" width="18.08" height="8.05" fill="#92b400"/>
<rect x="594.22" y="362.00" width="18.08" height="8.05" fill="#c4c300"/>
<rect x="594.22" y="370.00" width="18.08" height="8.05" fill="#c98300"/>
<rect x="594.22" y="378.00" width="18.08" height="8.05" fill="#cf2b00"/>
<rect x="594.22" y="386.00" width="18.08" height="8.05" fill="#ec0a00"/>
<rect x="594.22" y="394.00" width="18.08" height="8.05" fill="#ff3a3a"/>
<rect x="594.22" y="402.00" width="18.08" height="8.05" fill="#fffafa"/>
<rect x="594.22" y="410.00" width="18.08" height="80.05" fill="#ffffff"/>
<rect x="594.22" y="490.00" width="18.08" height="8.05" fill="#ffdada"/>
<rect x="594.22" y="498.00" width="18.08" height="40.05" fill="#ffbebe"/>
<rect x="594.22" y="538.00" width="18.08" height="8.05" fill="#ffc6c6"/>
<rect x="594.22" y="546.00" width="18.08" height="8.05" fill="#ffd3d3"/>
<rect x="594.22" y="554.00" width="18.08" height="8.05" fill="#ffe2e2"/>
<rect x="594.22" y="562.00" width="18.08" height="8.05" fill="#fff0f0"/>
<rect x="594.22" y="570.00" width="18.08" height="120.05" fill="#ffffff"/>
<rect x="594.22" y="690.00" width="18.08" height="8.05" fill="#ff7d7d"/>
<rect x="594.22" y="698.00" width="18.08" height="8.05" fill="#fe0000"/>
<rect x="594.22" y="706.00" width="18.08" height="8.05" fill="#d91400"/>
<rect x="594.22" y="714.00" width="18.08" height="8.05" fill="#cc4c00"/>
<rect x="594.22" y="722.00" width="18.08" height="8.05" fill="#c6a200"/>
<rect x="594.22" y="730.00" width="18.08" height="8.05" fill="#c4c200"/>
<rect x="594.22" y="738.00" width="18.08" height="8.05" fill="#7bad00"/>
<rect x="594.22" y="746.00" width="18.08" height="8.05" fill="#489c00"/>
<rect x="594.22" y="754.00" width="18.08" height="8.05" fill="#1d8f00"/>
<rect x="594.22" y="762.00" width="18.08" height="8.05" fill="#098800"/>
<rect x="594.22" y="770.00" width="18.08" height="8.05" fill="#077c0c"/>
<rect x="594.22" y="778.00" width="18.08" height="8.05" fill="#066e1b"/>
<rect x="594.22" y="786.00" width="18.08" height="8.05" fill="#055c2d"/>
<rect x="594.22" y="794.00" width="18.08" height="8.05" fill="#044643"/>
<rect x="594.22" y="802.00" width="18.08" height="8.05" fill="#033753"/>
<rect x="594.22" y="810.00" width="18.08" height="8.05" fill="#032e5d"/>
<rect x="612.25" y="170.00" width="18.07" height="120.05" fill="#000000"/>
<rect x="612.25" y="290.00" width="18.07" height="8.05" fill="#011477"/>
<rect x="612.25" y="298.00" width="18.07" height="8.05" fill="#02226a"/>
<rect x="612.25" y="306.00" width="18.07" height="8.05" fill="#033357"/>
<rect x="612.25" y="314.00" width="18.07" height="8.05" fill="#044644"/>
<rect x="612.25" y="322.00" width="18.07" height="8.05" fill="#055138"/>
<rect x="612.25" y="330.00" width="18.07" height="8.05" fill="#055d2c"/>
<rect x="612.25" y="338.00" width="18.07" height="8.05" fill="#076f1a"/>
<rect x="612.25" y="346.00" width="18.07" height="8.05" fill="#088008"/>
<rect x="612.25" y="354.00" width="18.07" height="8.05" fill="#128b00"/>
<rect x="612.25" y="362.00" width="18.07" height="8.05" fill="#509f00"/>
<rect x="612.25" y="370.00" width="18.07" height="8.05" fill="#7cad00"/>
<rect x="612.25" y="378.00" width="18.07" height="8.05" fill="#c4c200"/>
<rect x="612.25" y="386.00" width="18.07" height="8.05" fill="#c88300"/>
<rect x="612.25" y="394.00" width="18.07" height="8.05" fill="#cd4100"/>
<rect x="612.25" y="402.00" width="18.07" height="8.05" fill="#eb0a00"/>
<rect x="612.25" y="410.00" width="18.07" height="8.05" fill="#ff7272"/>
<rect x="612.25" y="418.00" width="18.07" height="136.05" fill="#ffffff"/>
<rect x="612.25" y="554.00" width="18.07" height="8.05" fill="#ffe4e4"/>
<rect x="612.25" y="562.00" width="18.07" height="8.05" fill="#ffd3d3"/>
<rect x="612.25" y="570.00" width="18.07" height="48.05" fill="#ffbebe"/>
<rect x="612.25" y="618.00" width="18.07" height="8.05" fill="#ffcccc"/>
<rect x="612.25" y="626.00" width="18.07" height="8.05" fill="#ffe2e2"/>
<rect x="612.25" y="634.00" width="18.07" height="40.05" fill="#ffffff"/>
<rect x="612.25" y="674.00" width="18.07" height="8.05" fill="#fffefe"/>
<rect x="612.25" y="682.00" width="18.07" height="8.05" fill="#ffd5d5"/>
<rect x="612.25" y="690.00" width="18.07" height="8.05" fill="#ffa4a4"/>
<rect x="612.25" y="698.00" width="18.07" height="8.05" fill="#ff4444"/>
<rect x="612.25" y="706.00" width="18.07" height="8.05" fill="#f70400"/>
<rect x="612.25" y="714.00" width="18.07" height="8.05" fill="#db1300"/>
<rect x="612.25" y="722.00" width="18.07" height="8.05" fill="#cc5200"/>
<rect x="612.25" y="730.00" width="18.07" height="8.05" fill="#c88a00"/>
<rect x="612.25" y="738.00" width="18.07" height="8.05" fill="#c4c100"/>
<rect x="612.25" y="746.00" width="18.07" height="8.05" fill="#8bb200"/>
<rect x="612.25" y="754.00" width="18.07" height="8.05" fill="#5aa200"/>
<rect x="612.25" y="762.00" width="18.07" height="8.05" fill="#279200"/>
<rect x="612.25" y="770.00" width="18.07" height="8.05" fill="#088800"/>
<rect x="612.25" y="778.00" width="18.07" height="8.05" fill="#077d0b"/>
<rect x="612.25" y="786.00" width="18.07" height="8.05" fill="#076f1a"/>
<rect x="612.25" y="794.00" width="18.07" height="8.05" fill="#055b2e"/>
<rect x="612.25" y="802.00" width="18.07" height="8.05" fill="#044842"/>
<rect x="612.25" y="810.00" width="18.07" height="8.05" fill="#043e4c"/>
<rect x="630.27" y="170.00" width="18.07" height="128.05" fill="#000000"/>
<rect x="630.27" y="298.00" width="18.07" height="8.05" fill="#010b81"/>
<rect x="630.27" y="306.00" width="18.07" height="8.05" fill="#021c6f"/>
<rect x="630.27" y="314.00" width="18.07" height="8.05" fill="#033357"/>
<rect x="630.27" y="322.00" width="18.07" height="8.05" fill="#044149"/>
<rect x="630.27" y="330.00" width="18.07" height="8.05" fill="#044743"/>
<rect x="630.27" y="338.00" width="18.07" height="8.05" fill="#054f3b"/>
<rect x="630.27" y="346.00" width="18.07" height="8.05" fill="#066425"/>
<rect x="630.27" y="354.00" width="18.07" height="8.05" fill="#077514"/>
<rect x="630.27" y="362.00" width="18.07" height="8.05" fill="#088405"/>
<rect x="630.27" y="370.00" width="18.07" height="8.05" fill="#0e8a00"/>
<rect x="630.27" y="378.00" width="18.07" height="8.05" fill="#188d00"/>
<rect x="630.27" y="386.00" width="18.07" height="8.05" fill="#509f00"/>
<rect x="630.27" y="394.00" width="18.07" height="8.05" fill="#76ab00"/>
<rect x="630.27" y="402.00" width="18.07" height="8.05" fill="#c6ae00"/>
<rect x="630.27" y="410.00" width="18.07" height="8.05" fill="#cb6000"/>
<rect x="630.27" y="418.00" width="18.07" height="8.05" fill="#de1100"/>
<rect x="630.27" y="426.00" width="18.07" height="8.05" fill="#ff2c2c"/>
<rect x="630.27" y="434.00" width="18.07" height="120.05" fill="#ffffff"/>
<rect x="630.27" y="554.00" width="18.07" height="8.05" fill="#ffbdbd"/>
<rect x="630.27" y="562.00" width="18.07" height="8.05" fill="#ff8080"/>
<rect x="630.27" y="570.00" width="18.07" height="8.05" fill="#ff4a4a"/>
<rect x="630.27" y="578.00" width="18.07" height="8.05" fill="#ff2121"/>
<rect x="630.27" y="586.00" width="18.07" height="8.05" fill="#ff0505"/>
<rect x="630.27" y="594.00" width="18.07" height="16.05" fill="#ff0202"/>
<rect x="630.27" y="610.00" width="18.07" height="40.05" fill="#ff0000"/>
<rect x="630.27" y="650.00" width="18.07" height="8.05" fill="#ff2020"/>
<rect x="630.27" y="658.00" width="18.07" height="8.05" fill="#ff2f2f"/>
<rect x="630.27" y="666.00" width="18.07" height="8.05" fill="#ff3d3d"/>
<rect x="630.27" y="674.00" width="18.07" height="16.05" fill="#ff4c4c"/>
<rect x="630.27" y="690.00" width="18.07" height="8.05" fill="#ff2e2e"/>
<rect x="630.27" y="698.00" width="18.07" height="8.05" fill="#ff1313"/>
<rect x="630.27" y="706.00" width="18.07" height="8.05" fill="#f70400"/>
<rect x="630.27" y="714.00" width="18.07" height="8.05" fill="#e30f00"/>
<rect x="630.27" y="722.00" width="18.07" height="8.05" fill="#cf2a00"/>
<rect x="630.27" y="730.00" width="18.07" height="8.05" fill="#ca6b00"/>
<rect x="630.27" y="738.00" width="18.07" height="8.05" fill="#c6a200"/>
<rect x="630.27" y="746.00" width="18.07" height="8.05" fill="#acbc00"/>
<rect x="630.27" y="754.00" width="18.07" height="8.05" fill="#74ab00"/>
<rect x="630.27" y="762.00" width="18.07" height="8.05" fill="#3d9900"/>
<rect x="630.27" y="770.00" width="18.07" height="8.05" fill="#0e8a00"/>
<rect x="630.27" y="778.00" width="18.07" height="8.05" fill="#077e0b"/>
<rect x="630.27" y="786.00" width="18.07" height="8.05" fill="#076f1a"/>
<rect x="630.27" y="794.00" width="18.07" height="8.05" fill="#055b2e"/>
<rect x="630.27" y="802.00" width="18.07" height="8.05" fill="#044842"/>
<rect x="630.27" y="810.00" width="18.07" height="8.05" fill="#043e4c"/>
<rect x="648.30" y="170.00" width="18.07" height="128.05" fill="#000000"/>
<rect x="648.30" y="298.00" width="18.07" height="8.05" fill="#000686"/>
<rect x="648.30" y="306.00" width="18.07" height="8.05" fill="#011577"/>
<rect x="648.30" y="314.00" width="18.07" height="8.05" fill="#032b60"/>
<rect x="648.30" y="322.00" width="18.07" height="8.05" fill="#033852"/>
<rect x="648.30" y="330.00" width="18.07" height="8.05" fill="#043e4c"/>
<rect x="648.30" y="338.00" width="18.07" height="8.05" fill="#044446"/>
<rect x="648.30" y="346.00" width="18.07" height="8.05" fill="#044743"/>
<rect x="648.30" y="354.00" width="18.07" height="8.05" fill="#044a40"/>
<rect x="648.30" y="362.00" width="18.07" height="8.05" fill="#055d2c"/>
<rect x="648.30" y="370.00" width="18.07" height="8.05" fill="#066227"/>
<rect x="648.30" y="378.00" width="18.07" height="8.05" fill="#066d1c"/>
<rect x="648.30" y="386.00" width="18.07" height="8.05" fill="#077514"/>
<rect x="648.30" y="394.00" width="18.07" height="8.05" fill="#077b0d"/>
<rect x="648.30" y="402.00" width="18.07" height="8.05" fill="#0e8a00"/>
<rect x="648.30" y="410.00" width="18.07" height="8.05" fill="#499d00"/>
<rect x="648.30" y="418.00" width="18.07" height="8.05" fill="#9cb700"/>
<rect x="648.30" y="426.00" width="18.07" height="8.05" fill="#c79d00"/>
<rect x="648.30" y="434.00" width="18.07" height="8.05" fill="#cd4000"/>
<rect x="648.30" y="442.00" width="18.07" height="8.05" fill="#f90300"/>
<rect x="648.30" y="450.00" width="18.07" height="8.05" fill="#ff8787"/>
<rect x="648.30" y="458.00" width="18.07" height="64.05" fill="#ffffff"/>
<rect x="648.30" y="522.00" width="18.07" height="8.05" fill="#ffdfdf"/>
<rect x="648.30" y="530.00" width="18.07" height="8.05" fill="#ffb6b6"/>
<rect x="648.30" y="538.00" width="18.07" height="8.05" fill="#ff7c7c"/>
<rect x="648.30" y="546.00" width="18.07" height="8.05" fill="#ff3f3f"/>
<rect x="648.30" y="554.00" width="18.07" height="8.05" fill="#ff1515"/>
<rect x="648.30" y="562.00" width="18.07" height="8.05" fill="#f70400"/>
<rect x="648.30" y="570.00" width="18.07" height="8.05" fill="#ec0a00"/>
<rect x="648.30" y="578.00" width="18.07" height="8.05" fill="#e10f00"/>
<rect x="648.30" y="586.00" width="18.07" height="8.05" fill="#db1300"/>
<rect x="648.30" y="594.00" width="18.07" height="8.05" fill="#d91300"/>
<rect x="648.30" y="602.00" width="18.07" height="8.05" fill="#d71400"/>
<rect x="648.30" y="610.00" width="18.07" height="24.05" fill="#d41600"/>
<rect x="648.30" y="634.00" width="18.07" height="8.05" fill="#d51500"/>
<rect x="648.30" y="642.00" width="18.07" height="8.05" fill="#d81400"/>
<rect x="648.30" y="650.00" width="18.07" height="8.05" fill="#da1300"/>
<rect x="648.30" y="658.00" width="18.07" height="8.05" fill="#dd1100"/>
<rect x="648.30" y="666.00" width="18.07" height="8.05" fill="#e01000"/>
<rect x="648.30" y="674.00" width="18.07" height="8.05" fill="#e20f00"/>
<rect x="648.30" y="682.00" width="18.07" height="8.05" fill="#e50d00"/>
<rect x="648.30" y="690.00" width="18.07" height="8.05" fill="#e90b00"/>
<rect x="648.30" y="698.00" width="18.07" height="8.05" fill="#ec0a00"/>
<rect x="648.30" y="706.00" width="18.07" height="8.05" fill="#e60d00"/>
<rect x="648.30" y="714.00" width="18.07" height="8.05" fill="#d21700"/>
<rect x="648.30" y="722.00" width="18.07" height="8.05" fill="#cc5200"/>
<rect x="648.30" y="730.00" width="18.07" height="8.05" fill="#c98100"/>
<rect x="648.30" y="738.00" width="18.07" height="8.05" fill="#c3c400"/>
<rect x="648.30" y="746.00" width="18.07" height="8.05" fill="#80ae00"/>
<rect x="648.30" y="754.00" width="18.07" height="8.05" fill="#449b00"/>
<rect x="648.30" y="762.00" width="18.07" height="8.05" fill="#188d00"/>
<rect x="648.30" y="770.00" width="18.07" height="8.05" fill="#077c0c"/>
<rect x="648.30" y="778.00" width="18.07" height="8.05" fill="#066623"/>
<rect x="648.30" y="786.00" width="18.07" height="8.05" fill="#055435"/>
<rect x="648.30" y="794.00" width="18.07" height="8.05" fill="#043f4c"/>
<rect x="648.30" y="802.00" width="18.07" height="8.05" fill="#032f5b"/>
<rect x="648.30" y="810.00" width="18.07" height="8.05" fill="#022665"/>
<rect x="666.32" y="170.00" width="18.08" height="120.05" fill="#000000"/>
<rect x="666.32" y="290.00" width="18.08" height="8.05" fill="#000389"/>
<rect x="666.32" y="298.00" width="18.08" height="8.05" fill="#010f7d"/>
<rect x="666.32" y="306.00" width="18.08" height="8.05" fill="#011774"/>
<rect x="666.32" y="314.00" width="18.08" height="8.05" fill="#021c70"/>
<rect x="666.32" y="322.00" width="18.08" height="8.05" fill="#021e6d"/>
<rect x="666.32" y="330.00" width="18.08" height="8.05" fill="#021f6c"/>
<rect x="666.32" y="338.00" width="18.08" height="8.05" fill="#02206b"/>
<rect x="666.32" y="346.00" width="18.08" height="8.05" fill="#02216a"/>
<rect x="666.32" y="354.00" width="18.08" height="8.05" fill="#022269"/>
<rect x="666.32" y="362.00" width="18.08" height="8.05" fill="#022368"/>
<rect x="666.32" y="370.00" width="18.08" height="8.05" fill="#022a61"/>
<rect x="666.32" y="378.00" width="18.08" height="8.05" fill="#033258"/>
<rect x="666.32" y="386.00" width="18.08" height="8.05" fill="#043d4d"/>
<rect x="666.32" y="394.00" width="18.08" height="8.05" fill="#044a40"/>
<rect x="666.32" y="402.00" width="18.08" height="8.05" fill="#055d2c"/>
<rect x="666.32" y="410.00" width="18.08" height="8.05" fill="#077514"/>
<rect x="666.32" y="418.00" width="18.08" height="8.05" fill="#088800"/>
<rect x="666.32" y="426.00" width="18.08" height="8.05" fill="#459c00"/>
<rect x="666.32" y="434.00" width="18.08" height="8.05" fill="#9db800"/>
<rect x="666.32" y="442.00" width="18.08" height="8.05" fill="#c88e00"/>
<rect x="666.32" y="450.00" width="18.08" height="8.05" fill="#d01f00"/>
<rect x="666.32" y="458.00" width="18.08" height="8.05" fill="#ec0a00"/>
<rect x="666.32" y="466.00" width="18.08" height="8.05" fill="#ff0000"/>
<rect x="666.32" y="474.00" width="18.08" height="16.05" fill="#ff2020"/>
<rect x="666.32" y="490.00" width="18.08" height="8.05" fill="#ff1111"/>
<rect x="666.32" y="498.00" width="18.08" height="8.05" fill="#fd0100"/>
<rect x="666.32" y="506.00" width="18.08" height="8.05" fill="#f60500"/>
<rect x="666.32" y="514.00" width="18.08" height="8.05" fill="#ea0a00"/>
<rect x="666.32" y="522.00" width="18.08" height="8.05" fill="#de1100"/>
<rect x="666.32" y="530.00" width="18.08" height="8.05" fill="#d41600"/>
<rect x="666.32" y="538.00" width="18.08" height="8.05" fill="#d01e00"/>
<rect x="666.32" y="546.00" width="18.08" height="8.05" fill="#ce3200"/>
<rect x="666.32" y="554.00" width="18.08" height="8.05" fill="#cd4500"/>
<rect x="666.32" y="562.00" width="18.08" height="8.05" fill="#cb6500"/>
<rect x="666.32" y="570.00" width="18.08" height="16.05" fill="#c97900"/>
<rect x="666.32" y="586.00" width="18.08" height="8.05" fill="#c98000"/>
<rect x="666.32" y="594.00" width="18.08" height="8.05" fill="#c88d00"/>
<rect x="666.32" y="602.00" width="18.08" height="8.05" fill="#c79c00"/>
<rect x="666.32" y="610.00" width="18.08" height="8.05" fill="#c6a100"/>
<rect x="666.32" y="618.00" width="18.08" height="8.05" fill="#c89100"/>
<rect x="666.32" y="626.00" width="18.08" height="16.05" fill="#c88e00"/>
<rect x="666.32" y="642.00" width="18.08" height="8.05" fill="#c97900"/>
<rect x="666.32" y="650.00" width="18.08" height="8.05" fill="#ca6c00"/>
<rect x="666.32" y="658.00" width="18.08" height="8.05" fill="#cb5f00"/>
<rect x="666.32" y="666.00" width="18.08" height="8.05" fill="#cc5200"/>
<rect x="666.32" y="674.00" width="18.08" height="8.05" fill="#cd4200"/>
<rect x="666.32" y="682.00" width="18.08" height="16.05" fill="#cd3d00"/>
<rect x="666.32" y="698.00" width="18.08" height="8.05" fill="#cc5400"/>
<rect x="666.32" y="706.00" width="18.08" height="8.05" fill="#ca7000"/>
<rect x="666.32" y="714.00" width="18.08" height="8.05" fill="#c89100"/>
<rect x="666.32" y="722.00" width="18.08" height="8.05" fill="#c5ba00"/>
<rect x="666.32" y="730.00" width="18.08" height="8.05" fill="#a0b800"/>
<rect x="666.32" y="738.00" width="18.08" height="8.05" fill="#65a600"/>
<rect x="666.32" y="746.00" width="18.08" height="8.05" fill="#198e00"/>
<rect x="666.32" y="754.00" width="18.08" height="8.05" fill="#077c0c"/>
<rect x="666.32" y="762.00" width="18.08" height="8.05" fill="#066623"/>
<rect x="666.32" y="770.00" width="18.08" height="8.05" fill="#044545"/>
<rect x="666.32" y="778.00" width="18.08" height="8.05" fill="#032f5c"/>
<rect x="666.32" y="786.00" width="18.08" height="8.05" fill="#021f6c"/>
<rect x="666.32" y="794.00" width="18.08" height="8.05" fill="#010f7d"/>
<rect x="666.32" y="802.00" width="18.08" height="8.05" fill="#00008c"/>
<rect x="666.32" y="810.00" width="18.08" height="8.05" fill="#01008b"/>
<rect x="684.35" y="170.00" width="18.07" height="112.05" fill="#000000"/>
<rect x="684.35" y="282.00" width="18.07" height="8.05" fill="#080083"/>
<rect x="684.35" y="290.00" width="18.07" height="8.05" fill="#070084"/>
<rect x="684.35" y="298.00" width="18.07" height="8.05" fill="#070085"/>
<rect x="684.35" y="306.00" width="18.07" height="8.05" fill="#060086"/>
<rect x="684.35" y="314.00" width="18.07" height="8.05" fill="#050087"/>
<rect x="684.35" y="322.00" width="18.07" height="8.05" fill="#040088"/>
<rect x="684.35" y="330.00" width="18.07" height="8.05" fill="#030089"/>
<rect x="684.35" y="338.00" width="18.07" height="8.05" fill="#02008a"/>
<rect x="684.35" y="346.00" width="18.07" height="8.05" fill="#01008a"/>
<rect x="684.35" y="354.00" width="18.07" height="8.05" fill="#00008c"/>
<rect x="684.35" y="362.00" width="18.07" height="8.05" fill="#00028a"/>
<rect x="684.35" y="370.00" width="18.07" height="8.05" fill="#000587"/>
<rect x="684.35" y="378.00" width="18.07" height="8.05" fill="#000884"/>
<rect x="684.35" y="386.00" width="18.07" height="16.05" fill="#011676"/>
<rect x="684.35" y="402.00" width="18.07" height="8.05" fill="#032d5e"/>
<rect x="684.35" y="410.00" width="18.07" height="8.05" fill="#066722"/>
<rect x="684.35" y="418.00" width="18.07" height="8.05" fill="#168c00"/>
<rect x="684.35" y="426.00" width="18.07" height="8.05" fill="#54a000"/>
<rect x="684.35" y="434.00" width="18.07" height="8.05" fill="#9bb700"/>
<rect x="684.35" y="442.00" width="18.07" height="8.05" fill="#c88f00"/>
<rect x="684.35" y="450.00" width="18.07" height="8.05" fill="#cb6600"/>
<rect x="684.35" y="458.00" width="18.07" height="8.05" fill="#cc5300"/>
<rect x="684.35" y="466.00" width="18.07" height="16.05" fill="#cd3e00"/>
<rect x="684.35" y="482.00" width="18.07" height="8.05" fill="#cc5100"/>
<rect x="684.35" y="490.00" width="18.07" height="8.05" fill="#ca6d00"/>
<rect x="684.35" y="498.00" width="18.07" height="8.05" fill="#c88900"/>
<rect x="684.35" y="506.00" width="18.07" height="8.05" fill="#c6a300"/>
<rect x="684.35" y="514.00" width="18.07" height="8.05" fill="#c4c300"/>
<rect x="684.35" y="522.00" width="18.07" height="8.05" fill="#c2c300"/>
<rect x="684.35" y="530.00" width="18.07" height="8.05" fill="#9eb800"/>
<rect x="684.35" y="538.00" width="18.07" height="8.05" fill="#7bad00"/>
<rect x="684.35" y="546.00" width="18.07" height="8.05" fill="#6da800"/>
<rect x="684.35" y="554.00" width="18.07" height="8.05" fill="#60a400"/>
<rect x="684.35" y="562.00" width="18.07" height="8.05" fill="#5ca300"/>
<rect x="684.35" y="570.00" width="18.07" height="8.05" fill="#5da300"/>
<rect x="684.35" y="578.00" width="18.07" height="8.05" fill="#5ea300"/>
<rect x="684.35" y="586.00" width="18.07" height="8.05" fill="#5fa400"/>
<rect x="684.35" y="594.00" width="18.07" height="8.05" fill="#60a400"/>
<rect x="684.35" y="602.00" width="18.07" height="8.05" fill="#61a400"/>
<rect x="684.35" y="610.00" width="18.07" height="8.05" fill="#66a600"/>
<rect x="684.35" y="618.00" width="18.07" height="8.05" fill="#6aa700"/>
<rect x="684.35" y="626.00" width="18.07" height="8.05" fill="#6fa900"/>
<rect x="684.35" y="634.00" width="18.07" height="40.05" fill="#71aa00"/>
<rect x="684.35" y="674.00" width="18.07" height="8.05" fill="#71a900"/>
<rect x="684.35" y="682.00" width="18.07" height="8.05" fill="#66a600"/>
<rect x="684.35" y="690.00" width="18.07" height="8.05" fill="#459c00"/>
<rect x="684.35" y="698.00" width="18.07" height="8.05" fill="#158c00"/>
<rect x="684.35" y="706.00" width="18.07" height="8.05" fill="#077c0c"/>
<rect x="684.35" y="714.00" width="18.07" height="8.05" fill="#055c2e"/>
<rect x="684.35" y="722.00" width="18.07" height="8.05" fill="#033556"/>
<rect x="684.35" y="730.00" width="18.07" height="8.05" fill="#021f6c"/>
<rect x="684.35" y="738.00" width="18.07" height="8.05" fill="#000587"/>
<rect x="684.35" y="746.00" width="18.07" height="8.05" fill="#0c0080"/>
<rect x="684.35" y="754.00" width="18.07" height="8.05" fill="#140077"/>
<rect x="684.35" y="762.00" width="18.07" height="8.05" fill="#150077"/>
<rect x="684.35" y="770.00" width="18.07" height="8.05" fill="#150076"/>
<rect x="684.35" y="778.00" width="18.07" height="8.05" fill="#160076"/>
<rect x="684.35" y="786.00" width="18.07" height="8.05" fill="#160075"/>
<rect x="684.35" y="794.00" width="18.07" height="16.05" fill="#170074"/>
<rect x="684.35" y="810.00" width="18.07" height="8.05" fill="#180073"/>
<rect x="702.38" y="170.00" width="18.07" height="96.05" fill="#000000"/>
<rect x="702.38" y="266.00" width="18.07" height="8.05" fill="#2e005c"/>
<rect x="702.38" y="274.00" width="18.07" height="8.05" fill="#2c005e"/>
<rect x="702.38" y="282.00" width="18.07" height="8.05" fill="#2a0060"/>
<rect x="702.38" y="290.00" width="18.07" height="8.05" fill="#280062"/>
<rect x="702.38" y="298.00" width="18.07" height="8.05" fill="#260065"/>
<rect x="702.38" y="306.00" width="18.07" height="8.05" fill="#230068"/>
<rect x="702.38" y="314.00" width="18.07" height="8.05" fill="#280063"/>
<rect x="702.38" y="322.00" width="18.07" height="8.05" fill="#240067"/>
<rect x="702.38" y="330.00" width="18.07" height="8.05" fill="#20006b"/>
<rect x="702.38" y="338.00" width="18.07" height="8.05" fill="#180073"/>
<rect x="702.38" y="346.00" width="18.07" height="8.05" fill="#0e007d"/>
<rect x="702.38" y="354.00" width="18.07" height="8.05" fill="#060085"/>
<rect x="702.38" y="362.00" width="18.07" height="8.05" fill="#021d6e"/>
<rect x="702.38" y="370.00" width="18.07" height="8.05" fill="#044a40"/>
<rect x="702.38" y="378.00" width="18.07" height="8.05" fill="#077514"/>
<rect x="702.38" y="386.00" width="18.07" height="8.05" fill="#138b00"/>
<rect x="702.38" y="394.00" width="18.07" height="8.05" fill="#509f00"/>
<rect x="702.38" y="402.00" width="18.07" height="8.05" fill="#87b000"/>
<rect x="702.38" y="410.00" width="18.07" height="8.05" fill="#c4c400"/>
<rect x="702.38" y="418.00" width="18.07" height="8.05" fill="#c6a200"/>
<rect x="702.38" y="426.00" width="18.07" height="8.05" fill="#c88e00"/>
<rect x="702.38" y="434.00" width="18.07" height="8.05" fill="#c88800"/>
<rect x="702.38" y="442.00" width="18.07" height="8.05" fill="#c88e00"/>
<rect x="702.38" y="450.00" width="18.07" height="8.05" fill="#c6a200"/>
<rect x="702.38" y="458.00" width="18.07" height="8.05" fill="#c5b600"/>
<rect x="702.38" y="466.00" width="18.07" height="8.05" fill="#c4c400"/>
<rect x="702.38" y="474.00" width="18.07" height="8.05" fill="#a8bb00"/>
<rect x="702.38" y="482.00" width="18.07" height="8.05" fill="#83af00"/>
<rect x="702.38" y="490.00" width="18.07" height="8.05" fill="#6da800"/>
<rect x="702.38" y="498.00" width="18.07" height="8.05" fill="#509f00"/>
<rect x="702.38" y="506.00" width="18.07" height="8.05" fill="#249100"/>
<rect x="702.38" y="514.00" width="18.07" height="8.05" fill="#178d00"/>
<rect x="702.38" y="522.00" width="18.07" height="8.05" fill="#0c8900"/>
<rect x="702.38" y="530.00" width="18.07" height="8.05" fill="#088800"/>
<rect x="702.38" y="538.00" width="18.07" height="8.05" fill="#088206"/>
<rect x="702.38" y="546.00" width="18.07" height="8.05" fill="#077c0c"/>
<rect x="702.38" y="554.00" width="18.07" height="8.05" fill="#077810"/>
<rect x="702.38" y="562.00" width="18.07" height="8.05" fill="#077514"/>
<rect x="702.38" y="570.00" width="18.07" height="8.05" fill="#066e1a"/>
<rect x="702.38" y="578.00" width="18.07" height="8.05" fill="#066821"/>
<rect x="702.38" y="586.00" width="18.07" height="8.05" fill="#066326"/>
<rect x="702.38" y="594.00" width="18.07" height="8.05" fill="#065f2a"/>
<rect x="702.38" y="602.00" width="18.07" height="8.05" fill="#055b2e"/>
<rect x="702.38" y="610.00" width="18.07" height="8.05" fill="#055a30"/>
<rect x="702.38" y="618.00" width="18.07" height="8.05" fill="#066227"/>
<rect x="702.38" y="626.00" width="18.07" height="8.05" fill="#065e2b"/>
<rect x="702.38" y="634.00" width="18.07" height="8.05" fill="#055534"/>
<rect x="702.38" y="642.00" width="18.07" height="8.05" fill="#044545"/>
<rect x="702.38" y="650.00" width="18.07" height="8.05" fill="#033a50"/>
<rect x="702.38" y="658.00" width="18.07" height="8.05" fill="#022566"/>
<rect x="702.38" y="666.00" width="18.07" height="8.05" fill="#010f7c"/>
<rect x="702.38" y="674.00" width="18.07" height="8.05" fill="#01008b"/>
<rect x="702.38" y="682.00" width="18.07" height="8.05" fill="#090083"/>
<rect x="702.38" y="690.00" width="18.07" height="8.05" fill="#140077"/>
<rect x="702.38" y="698.00" width="18.07" height="8.05" fill="#20006b"/>
<rect x="702.38" y="706.00" width="18.07" height="8.05" fill="#2f005b"/>
<rect x="702.38" y="714.00" width="18.07" height="8.05" fill="#390051"/>
<rect x="702.38" y="722.00" width="18.07" height="8.05" fill="#3f004b"/>
<rect x="702.38" y="730.00" width="18.07" height="8.05" fill="#420048"/>
<rect x="702.38" y="738.00" width="18.07" height="80.05" fill="#410047"/>
<rect x="720.40" y="170.00" width="18.07" height="64.05" fill="#000000"/>
<rect x="720.40" y="234.00" width="18.07" height="8.05" fill="#420048"/>
<rect x="720.40" y="242.00" width="18.07" height="8.05" fill="#410049"/>
<rect x="720.40" y="250.00" width="18.07" height="8.05" fill="#40004a"/>
<rect x="720.40" y="258.00" width="18.07" height="8.05" fill="#3f004b"/>
<rect x="720.40" y="266.00" width="18.07" height="8.05" fill="#3e004c"/>
<rect x="720.40" y="274.00" width="18.07" height="8.05" fill="#3d004d"/>
<rect x="720.40" y="282.00" width="18.07" height="8.05" fill="#3c004f"/>
<rect x="720.40" y="290.00" width="18.07" height="8.05" fill="#390051"/>
<rect x="720.40" y="298.00" width="18.07" height="8.05" fill="#30005a"/>
<rect x="720.40" y="306.00" width="18.07" height="8.05" fill="#260064"/>
<rect x="720.40" y="314.00" width="18.07" height="8.05" fill="#180073"/>
<rect x="720.40" y="322.00" width="18.07" height="8.05" fill="#090083"/>
<rect x="720.40" y="330.00" width="18.07" height="8.05" fill="#010983"/>
<rect x="720.40" y="338.00" width="18.07" height="8.05" fill="#02216a"/>
<rect x="720.40" y="346.00" width="18.07" height="8.05" fill="#043d4d"/>
<rect x="720.40" y="354.00" width="18.07" height="8.05" fill="#066227"/>
<rect x="720.40" y="362.00" width="18.07" height="8.05" fill="#088800"/>
<rect x="720.40" y="370.00" width="18.07" height="8.05" fill="#509f00"/>
<rect x="720.40" y="378.00" width="18.07" height="8.05" fill="#75ab00"/>
<rect x="720.40" y="386.00" width="18.07" height="8.05" fill="#9db800"/>
<rect x="720.40" y="394.00" width="18.07" height="8.05" fill="#bec200"/>
<rect x="720.40" y="402.00" width="18.07" height="32.05" fill="#c4c400"/>
<rect x="720.40" y="434.00" width="18.07" height="8.05" fill="#bec200"/>
<rect x="720.40" y="442.00" width="18.07" height="8.05" fill="#a8bb00"/>
<rect x="720.40" y="450.00" width="18.07" height="8.05" fill="#83af00"/>
<rect x="720.40" y="458.00" width="18.07" height="8.05" fill="#71aa00"/>
<rect x="720.40" y="466.00" width="18.07" height="8.05" fill="#509f00"/>
<rect x="720.40" y="474.00" width="18.07" height="8.05" fill="#3a9800"/>
<rect x="720.40" y="482.00" width="18.07" height="8.05" fill="#249100"/>
<rect x="720.40" y="490.00" width="18.07" height="8.05" fill="#138b00"/>
<rect x="720.40" y="498.00" width="18.07" height="8.05" fill="#088800"/>
<rect x="720.40" y="506.00" width="18.07" height="8.05" fill="#088504"/>
<rect x="720.40" y="514.00" width="18.07" height="8.05" fill="#077d0c"/>
<rect x="720.40" y="522.00" width="18.07" height="8.05" fill="#077514"/>
<rect x="720.40" y="530.00" width="18.07" height="8.05" fill="#066d1c"/>
<rect x="720.40" y="538.00" width="18.07" height="8.05" fill="#066227"/>
<rect x="720.40" y="546.00" width="18.07" height="8.05" fill="#055534"/>
<rect x="720.40" y="554.00" width="18.07" height="8.05" fill="#044545"/>
<rect x="720.40" y="562.00" width="18.07" height="8.05" fill="#043d4d"/>
<rect x="720.40" y="570.00" width="18.07" height="8.05" fill="#033258"/>
<rect x="720.40" y="578.00" width="18.07" height="8.05" fill="#022566"/>
<rect x="720.40" y="586.00" width="18.07" height="8.05" fill="#011774"/>
<rect x="720.40" y="594.00" width="18.07" height="8.05" fill="#000785"/>
<rect x="720.40" y="602.00" width="18.07" height="8.05" fill="#030088"/>
<rect x="720.40" y="610.00" width="18.07" height="8.05" fill="#0e007d"/>
<rect x="720.40" y="618.00" width="18.07" height="8.05" fill="#180073"/>
<rect x="720.40" y="626.00" width="18.07" height="8.05" fill="#280063"/>
<rect x="720.40" y="634.00" width="18.07" height="8.05" fill="#2f005b"/>
<rect x="720.40" y="642.00" width="18.07" height="8.05" fill="#370053"/>
<rect x="720.40" y="650.00" width="18.07" height="8.05" fill="#3f004b"/>
<rect x="720.40" y="658.00" width="18.07" height="8.05" fill="#410047"/>
<rect x="720.40" y="666.00" width="18.07" height="8.05" fill="#37003c"/>
<rect x="720.40" y="674.00" width="18.07" height="8.05" fill="#300034"/>
<rect x="720.40" y="682.00" width="18.07" height="8.05" fill="#28002c"/>
<rect x="720.40" y="690.00" width="18.07" height="8.05" fill="#200023"/>
<rect x="720.40" y="698.00" width="18.07" height="8.05" fill="#1f0022"/>
<rect x="720.40" y="706.00" width="18.07" height="8.05" fill="#18001b"/>
<rect x="720.40" y="714.00" width="18.07" height="8.05" fill="#18001a"/>
<rect x="720.40" y="722.00" width="18.07" height="8.05" fill="#17001a"/>
<rect x="720.40" y="730.00" width="18.07" height="72.05" fill="#170019"/>
<rect x="720.40" y="802.00" width="18.07" height="16.05" fill="#020003"/>
<rect x="738.42" y="170.00" width="18.07" height="40.05" fill="#000000"/>
<rect x="738.42" y="210.00" width="18.07" height="8.05" fill="#27002b"/>
<rect x="738.42" y="218.00" width="18.07" height="8.05" fill="#29002c"/>
<rect x="738.42" y="226.00" width="18.07" height="8.05" fill="#2a002e"/>
<rect x="738.42" y="234.00" width="18.07" height="8.05" fill="#2b002f"/>
<rect x="738.42" y="242.00" width="18.07" height="8.05" fill="#2d0031"/>
<rect x="738.42" y="250.00" width="18.07" height="8.05" fill="#2e0032"/>
<rect x="738.42" y="258.00" width="18.07" height="8.05" fill="#320036"/>
<rect x="738.42" y="266.00" width="18.07" height="8.05" fill="#35003a"/>
<rect x="738.42" y="274.00" width="18.07" height="8.05" fill="#39003e"/>
<rect x="738.42" y="282.00" width="18.07" height="8.05" fill="#3d0043"/>
<rect x="738.42" y="290.00" width="18.07" height="8.05" fill="#410049"/>
<rect x="738.42" y="298.00" width="18.07" height="8.05" fill="#3b0050"/>
<rect x="738.42" y="306.00" width="18.07" height="8.05" fill="#2c005f"/>
<rect x="738.42" y="314.00" width="18.07" height="8.05" fill="#190072"/>
<rect x="738.42" y="322.00" width="18.07" height="8.05" fill="#060086"/>
<rect x="738.42" y="330.00" width="18.07" height="8.05" fill="#010e7d"/>
<rect x="738.42" y="338.00" width="18.07" height="8.05" fill="#043d4d"/>
<rect x="738.42" y="346.00" width="18.07" height="8.05" fill="#066524"/>
<rect x="738.42" y="354.00" width="18.07" height="8.05" fill="#088602"/>
<rect x="738.42" y="362.00" width="18.07" height="8.05" fill="#108b00"/>
<rect x="738.42" y="370.00" width="18.07" height="8.05" fill="#198e00"/>
<rect x="738.42" y="378.00" width="18.07" height="8.05" fill="#239100"/>
<rect x="738.42" y="386.00" width="18.07" height="56.05" fill="#158c00"/>
<rect x="738.42" y="442.00" width="18.07" height="8.05" fill="#118b00"/>
<rect x="738.42" y="450.00" width="18.07" height="8.05" fill="#0a8900"/>
<rect x="738.42" y="458.00" width="18.07" height="8.05" fill="#088305"/>
<rect x="738.42" y="466.00" width="18.07" height="8.05" fill="#077d0c"/>
<rect x="738.42" y="474.00" width="18.07" height="8.05" fill="#07790f"/>
<rect x="738.42" y="482.00" width="18.07" height="8.05" fill="#077513"/>
<rect x="738.42" y="490.00" width="18.07" height="16.05" fill="#077514"/>
<rect x="738.42" y="506.00" width="18.07" height="8.05" fill="#077217"/>
<rect x="738.42" y="514.00" width="18.07" height="8.05" fill="#066920"/>
<rect x="738.42" y="522.00" width="18.07" height="8.05" fill="#065e2b"/>
<rect x="738.42" y="530.00" width="18.07" height="8.05" fill="#055237"/>
<rect x="738.42" y="538.00" width="18.07" height="8.05" fill="#04404a"/>
<rect x="738.42" y="546.00" width="18.07" height="8.05" fill="#022a61"/>
<rect x="738.42" y="554.00" width="18.07" height="8.05" fill="#01117a"/>
<rect x="738.42" y="562.00" width="18.07" height="8.05" fill="#01008b"/>
<rect x="738.42" y="570.00" width="18.07" height="8.05" fill="#0a0081"/>
<rect x="738.42" y="578.00" width="18.07" height="8.05" fill="#130079"/>
<rect x="738.42" y="586.00" width="18.07" height="8.05" fill="#1b0070"/>
<rect x="738.42" y="594.00" width="18.07" height="8.05" fill="#270063"/>
<rect x="738.42" y="602.00" width="18.07" height="8.05" fill="#350055"/>
<rect x="738.42" y="610.00" width="18.07" height="8.05" fill="#3d0043"/>
<rect x="738.42" y="618.00" width="18.07" height="8.05" fill="#2e0032"/>
<rect x="738.42" y="626.00" width="18.07" height="8.05" fill="#29002d"/>
<rect x="738.42" y="634.00" width="18.07" height="8.05" fill="#210024"/>
<rect x="738.42" y="642.00" width="18.07" height="8.05" fill="#170019"/>
<rect x="738.42" y="650.00" width="18.07" height="8.05" fill="#130015"/>
<rect x="738.42" y="658.00" width="18.07" height="8.05" fill="#100012"/>
<rect x="738.42" y="666.00" width="18.07" height="8.05" fill="#0e0010"/>
<rect x="738.42" y="674.00" width="18.07" height="8.05" fill="#0d000e"/>
<rect x="738.42" y="682.00" width="18.07" height="88.05" fill="#0c000d"/>
<rect x="738.42" y="770.00" width="18.07" height="48.05" fill="#020003"/>
<rect x="756.45" y="170.00" width="18.08" height="24.05" fill="#000000"/>
<rect x="756.45" y="194.00" width="18.08" height="8.05" fill="#1b001e"/>
<rect x="756.45" y="202.00" width="18.08" height="8.05" fill="#1c001e"/>
<rect x="756.45" y="210.00" width="18.08" height="8.05" fill="#1c001f"/>
<rect x="756.45" y="218.00" width="18.08" height="8.05" fill="#1d001f"/>
<rect x="756.45" y="226.00" width="18.08" height="8.05" fill="#1d0020"/>
<rect x="756.45" y="234.00" width="18.08" height="8.05" fill="#1e0020"/>
<rect x="756.45" y="242.00" width="18.08" height="8.05" fill="#1e0021"/>
<rect x="756.45" y="250.00" width="18.08" height="8.05" fill="#1f0022"/>
<rect x="756.45" y="258.00" width="18.08" height="8.05" fill="#220025"/>
<rect x="756.45" y="266.00" width="18.08" height="8.05" fill="#250028"/>
<rect x="756.45" y="274.00" width="18.08" height="8.05" fill="#28002c"/>
<rect x="756.45" y="282.00" width="18.08" height="8.05" fill="#2c0030"/>
<rect x="756.45" y="290.00" width="18.08" height="8.05" fill="#310035"/>
<rect x="756.45" y="298.00" width="18.08" height="8.05" fill="#3b0041"/>
<rect x="756.45" y="306.00" width="18.08" height="8.05" fill="#3e004d"/>
<rect x="756.45" y="314.00" width="18.08" height="8.05" fill="#310059"/>
<rect x="756.45" y="322.00" width="18.08" height="8.05" fill="#220069"/>
<rect x="756.45" y="330.00" width="18.08" height="8.05" fill="#130079"/>
<rect x="756.45" y="338.00" width="18.08" height="8.05" fill="#050087"/>
<rect x="756.45" y="346.00" width="18.08" height="8.05" fill="#02008a"/>
<rect x="756.45" y="354.00" width="18.08" height="96.05" fill="#01008b"/>
<rect x="756.45" y="450.00" width="18.08" height="8.05" fill="#02008a"/>
<rect x="756.45" y="458.00" width="18.08" height="8.05" fill="#01008b"/>
<rect x="756.45" y="466.00" width="18.08" height="8.05" fill="#00008c"/>
<rect x="756.45" y="474.00" width="18.08" height="24.05" fill="#00018b"/>
<rect x="756.45" y="498.00" width="18.08" height="8.05" fill="#00008c"/>
<rect x="756.45" y="506.00" width="18.08" height="8.05" fill="#01008b"/>
<rect x="756.45" y="514.00" width="18.08" height="8.05" fill="#030088"/>
<rect x="756.45" y="522.00" width="18.08" height="8.05" fill="#060085"/>
<rect x="756.45" y="530.00" width="18.08" height="8.05" fill="#0e007d"/>
<rect x="756.45" y="538.00" width="18.08" height="8.05" fill="#170075"/>
<rect x="756.45" y="546.00" width="18.08" height="8.05" fill="#20006b"/>
<rect x="756.45" y="554.00" width="18.08" height="8.05" fill="#2f005b"/>
<rect x="756.45" y="562.00" width="18.08" height="8.05" fill="#370053"/>
<rect x="756.45" y="570.00" width="18.08" height="8.05" fill="#410047"/>
<rect x="756.45" y="578.00" width="18.08" height="8.05" fill="#37003c"/>
<rect x="756.45" y="586.00" width="18.08" height="8.05" fill="#2e0032"/>
<rect x="756.45" y="594.00" width="18.08" height="8.05" fill="#26002a"/>
<rect x="756.45" y="602.00" width="18.08" height="8.05" fill="#1f0022"/>
<rect x="756.45" y="610.00" width="18.08" height="8.05" fill="#19001b"/>
<rect x="756.45" y="618.00" width="18.08" height="8.05" fill="#130015"/>
<rect x="756.45" y="626.00" width="18.08" height="8.05" fill="#0f0011"/>
<rect x="756.45" y="634.00" width="18.08" height="8.05" fill="#0c000d"/>
<rect x="756.45" y="642.00" width="18.08" height="8.05" fill="#09000a"/>
<rect x="756.45" y="650.00" width="18.08" height="8.05" fill="#080008"/>
<rect x="756.45" y="658.00" width="18.08" height="8.05" fill="#060007"/>
<rect x="756.45" y="666.00" width="18.08" height="8.05" fill="#040004"/>
<rect x="756.45" y="674.00" width="18.08" height="8.05" fill="#030003"/>
<rect x="756.45" y="682.00" width="18.08" height="136.05" fill="#020003"/>
<rect x="774.48" y="170.00" width="18.07" height="8.05" fill="#000000"/>
<rect x="774.48" y="178.00" width="18.07" height="8.05" fill="#130015"/>
<rect x="774.48" y="186.00" width="18.07" height="24.05" fill="#140016"/>
<rect x="774.48" y="210.00" width="18.07" height="24.05" fill="#150017"/>
<rect x="774.48" y="234.00" width="18.07" height="16.05" fill="#160018"/>
<rect x="774.48" y="250.00" width="18.07" height="16.05" fill="#170019"/>
<rect x="774.48" y="266.00" width="18.07" height="8.05" fill="#18001a"/>
<rect x="774.48" y="274.00" width="18.07" height="8.05" fill="#1b001d"/>
<rect x="774.48" y="282.00" width="18.07" height="8.05" fill="#1e0020"/>
<rect x="774.48" y="290.00" width="18.07" height="8.05" fill="#200023"/>
<rect x="774.48" y="298.00" width="18.07" height="8.05" fill="#230026"/>
<rect x="774.48" y="306.00" width="18.07" height="8.05" fill="#260029"/>
<rect x="774.48" y="314.00" width="18.07" height="8.05" fill="#2d0031"/>
<rect x="774.48" y="322.00" width="18.07" height="8.05" fill="#35003a"/>
<rect x="774.48" y="330.00" width="18.07" height="8.05" fill="#3a003f"/>
<rect x="774.48" y="338.00" width="18.07" height="8.05" fill="#3e0043"/>
<rect x="774.48" y="346.00" width="18.07" height="16.05" fill="#3e0044"/>
<rect x="774.48" y="362.00" width="18.07" height="16.05" fill="#3f0045"/>
<rect x="774.48" y="378.00" width="18.07" height="8.05" fill="#400045"/>
<rect x="774.48" y="386.00" width="18.07" height="24.05" fill="#410047"/>
<rect x="774.48" y="410.00" width="18.07" height="8.05" fill="#420048"/>
<rect x="774.48" y="418.00" width="18.07" height="8.05" fill="#3d004d"/>
<rect x="774.48" y="426.00" width="18.07" height="8.05" fill="#390051"/>
<rect x="774.48" y="434.00" width="18.07" height="8.05" fill="#350055"/>
<rect x="774.48" y="442.00" width="18.07" height="8.05" fill="#310059"/>
<rect x="774.48" y="450.00" width="18.07" height="8.05" fill="#2e005c"/>
<rect x="774.48" y="458.00" width="18.07" height="8.05" fill="#2c005f"/>
<rect x="774.48" y="466.00" width="18.07" height="8.05" fill="#290062"/>
<rect x="774.48" y="474.00" width="18.07" height="24.05" fill="#280063"/>
<rect x="774.48" y="498.00" width="18.07" height="8.05" fill="#290062"/>
<rect x="774.48" y="506.00" width="18.07" height="8.05" fill="#2c005e"/>
<rect x="774.48" y="514.00" width="18.07" height="8.05" fill="#30005a"/>
<rect x="774.48" y="522.00" width="18.07" height="8.05" fill="#380053"/>
<rect x="774.48" y="530.00" width="18.07" height="8.05" fill="#3f004b"/>
<rect x="774.48" y="538.00" width="18.07" height="16.05" fill="#3e0043"/>
<rect x="774.48" y="554.00" width="18.07" height="8.05" fill="#3b0040"/>
<rect x="774.48" y="562.00" width="18.07" height="8.05" fill="#2e0033"/>
<rect x="774.48" y="570.00" width="18.07" height="8.05" fill="#240028"/>
<rect x="774.48" y="578.00" width="18.07" height="8.05" fill="#1a001d"/>
<rect x="774.48" y="586.00" width="18.07" height="8.05" fill="#100012"/>
<rect x="774.48" y="594.00" width="18.07" height="8.05" fill="#0c000d"/>
<rect x="774.48" y="602.00" width="18.07" height="8.05" fill="#09000a"/>
<rect x="774.48" y="610.00" width="18.07" height="8.05" fill="#060006"/>
<rect x="774.48" y="618.00" width="18.07" height="8.05" fill="#030003"/>
<rect x="774.48" y="626.00" width="18.07" height="192.05" fill="#020003"/>
</g>
<rect x="143.5" y="169.9" width="649.0" height="648.0" fill="none" stroke="#000" stroke-width="1.2"/>
<g class="t"><line x1="161.53" y1="817.50" x2="161.53" y2="811.50"/><line x1="161.53" y1="169.50" x2="161.53" y2="175.50"/><line x1="179.56" y1="817.50" x2="179.56" y2="811.50"/><line x1="179.56" y1="169.50" x2="179.56" y2="175.50"/><line x1="197.58" y1="817.50" x2="197.58" y2="811.50"/><line x1="197.58" y1="169.50" x2="197.58" y2="175.50"/><line x1="215.61" y1="817.50" x2="215.61" y2="811.50"/><line x1="215.61" y1="169.50" x2="215.61" y2="175.50"/><line x1="233.64" y1="817.50" x2="233.64" y2="805.50"/><line x1="233.64" y1="169.50" x2="233.64" y2="181.50"/><line x1="251.67" y1="817.50" x2="251.67" y2="811.50"/><line x1="251.67" y1="169.50" x2="251.67" y2="175.50"/><line x1="269.69" y1="817.50" x2="269.69" y2="811.50"/><line x1="269.69" y1="169.50" x2="269.69" y2="175.50"/><line x1="287.72" y1="817.50" x2="287.72" y2="811.50"/><line x1="287.72" y1="169.50" x2="287.72" y2="175.50"/><line x1="305.75" y1="817.50" x2="305.75" y2="811.50"/><line x1="305.75" y1="169.50" x2="305.75" y2="175.50"/><line x1="323.78" y1="817.50" x2="323.78" y2="805.50"/><line x1="323.78" y1="169.50" x2="323.78" y2="181.50"/><line x1="341.81" y1="817.50" x2="341.81" y2="811.50"/><line x1="341.81" y1="169.50" x2="341.81" y2="175.50"/><line x1="359.83" y1="817.50" x2="359.83" y2="811.50"/><line x1="359.83" y1="169.50" x2="359.83" y2="175.50"/><line x1="377.86" y1="817.50" x2="377.86" y2="811.50"/><line x1="377.86" y1="169.50" x2="377.86" y2="175.50"/><line x1="395.89" y1="817.50" x2="395.89" y2="811.50"/><line x1="395.89" y1="169.50" x2="395.89" y2="175.50"/><line x1="413.92" y1="817.50" x2="413.92" y2="805.50"/><line x1="413.92" y1="169.50" x2="413.92" y2="181.50"/><line x1="431.94" y1="817.50" x2="431.94" y2="811.50"/><line x1="431.94" y1="169.50" x2="431.94" y2="175.50"/><line x1="449.97" y1="817.50" x2="449.97" y2="811.50"/><line x1="449.97" y1="169.50" x2="449.97" y2="175.50"/><line x1="468.00" y1="817.50" x2="468.00" y2="811.50"/><line x1="468.00" y1="169.50" x2="468.00" y2="175.50"/><line x1="486.03" y1="817.50" x2="486.03" y2="811.50"/><line x1="486.03" y1="169.50" x2="486.03" y2="175.50"/><line x1="504.06" y1="817.50" x2="504.06" y2="805.50"/><line x1="504.06" y1="169.50" x2="504.06" y2="181.50"/><line x1="522.08" y1="817.50" x2="522.08" y2="811.50"/><line x1="522.08" y1="169.50" x2="522.08" y2="175.50"/><line x1="540.11" y1="817.50" x2="540.11" y2="811.50"/><line x1="540.11" y1="169.50" x2="540.11" y2="175.50"/><line x1="558.14" y1="817.50" x2="558.14" y2="811.50"/><line x1="558.14" y1="169.50" x2="558.14" y2="175.50"/><line x1="576.17" y1="817.50" x2="576.17" y2="811.50"/><line x1="576.17" y1="169.50" x2="576.17" y2="175.50"/><line x1="594.19" y1="817.50" x2="594.19" y2="805.50"/><line x1="594.19" y1="169.50" x2="594.19" y2="181.50"/><line x1="612.22" y1="817.50" x2="612.22" y2="811.50"/><line x1="612.22" y1="169.50" x2="612.22" y2="175.50"/><line x1="630.25" y1="817.50" x2="630.25" y2="811.50"/><line x1="630.25" y1="169.50" x2="630.25" y2="175.50"/><line x1="648.28" y1="817.50" x2="648.28" y2="811.50"/><line x1="648.28" y1="169.50" x2="648.28" y2="175.50"/><line x1="666.31" y1="817.50" x2="666.31" y2="811.50"/><line x1="666.31" y1="169.50" x2="666.31" y2="175.50"/><line x1="684.33" y1="817.50" x2="684.33" y2="805.50"/><line x1="684.33" y1="169.50" x2="684.33" y2="181.50"/><line x1="702.36" y1="817.50" x2="702.36" y2="811.50"/><line x1="702.36" y1="169.50" x2="702.36" y2="175.50"/><line x1="720.39" y1="817.50" x2="720.39" y2="811.50"/><line x1="720.39" y1="169.50" x2="720.39" y2="175.50"/><line x1="738.42" y1="817.50" x2="738.42" y2="811.50"/><line x1="738.42" y1="169.50" x2="738.42" y2="175.50"/><line x1="756.44" y1="817.50" x2="756.44" y2="811.50"/><line x1="756.44" y1="169.50" x2="756.44" y2="175.50"/><line x1="774.47" y1="817.50" x2="774.47" y2="805.50"/><line x1="774.47" y1="169.50" x2="774.47" y2="181.50"/><line x1="143.50" y1="817.50" x2="155.50" y2="817.50"/><line x1="792.50" y1="817.50" x2="780.50" y2="817.50"/><line x1="143.50" y1="737.50" x2="149.50" y2="737.50"/><line x1="792.50" y1="737.50" x2="786.50" y2="737.50"/><line x1="143.50" y1="657.50" x2="155.50" y2="657.50"/><line x1="792.50" y1="657.50" x2="780.50" y2="657.50"/><line x1="143.50" y1="577.50" x2="149.50" y2="577.50"/><line x1="792.50" y1="577.50" x2="786.50" y2="577.50"/><line x1="143.50" y1="497.50" x2="155.50" y2="497.50"/><line x1="792.50" y1="497.50" x2="780.50" y2="497.50"/><line x1="143.50" y1="417.50" x2="149.50" y2="417.50"/><line x1="792.50" y1="417.50" x2="786.50" y2="417.50"/><line x1="143.50" y1="337.50" x2="155.50" y2="337.50"/><line x1="792.50" y1="337.50" x2="780.50" y2="337.50"/><line x1="143.50" y1="257.50" x2="149.50" y2="257.50"/><line x1="792.50" y1="257.50" x2="786.50" y2="257.50"/><line x1="143.50" y1="177.50" x2="155.50" y2="177.50"/><line x1="792.50" y1="177.50" x2="780.50" y2="177.50"/></g>
<rect x="539.4" y="33.5" width="324.8" height="14.0" fill="url(#pal)" stroke="#000" stroke-width="1"/>
<g class="t"><line x1="593.53" y1="33.50" x2="593.53" y2="36.00"/><line x1="593.53" y1="47.50" x2="593.53" y2="45.00"/><line x1="647.67" y1="33.50" x2="647.67" y2="36.00"/><line x1="647.67" y1="47.50" x2="647.67" y2="45.00"/><line x1="701.80" y1="33.50" x2="701.80" y2="36.00"/><line x1="701.80" y1="47.50" x2="701.80" y2="45.00"/><line x1="755.93" y1="33.50" x2="755.93" y2="36.00"/><line x1="755.93" y1="47.50" x2="755.93" y2="45.00"/><line x1="810.07" y1="33.50" x2="810.07" y2="36.00"/><line x1="810.07" y1="47.50" x2="810.07" y2="45.00"/></g>
<text y="155.6" text-anchor="start"><tspan x="250.2" textLength="166.3">PBf20151004</tspan> <tspan x="431.6">UT:</tspan> <tspan x="488.5">3.75</tspan> <tspan x="556">mjd:</tspan> <tspan x="618">57299</tspan></text>
<text x="702.0" y="19.6" text-anchor="middle">TEC</text>
<text x="539.7" y="81.7" text-anchor="middle">0</text>
<text x="593.8" y="81.7" text-anchor="middle">10</text>
<text x="648.0" y="81.7" text-anchor="middle">20</text>
<text x="702.1" y="81.7" text-anchor="middle">30</text>
<text x="756.2" y="81.7" text-anchor="middle">40</text>
<text x="810.4" y="81.7" text-anchor="middle">50</text>
<text x="864.5" y="81.7" text-anchor="middle">60</text>
<text x="143.8" y="852.0" text-anchor="middle">0</text>
<text x="233.9" y="852.0" text-anchor="middle">50</text>
<text x="324.1" y="852.0" text-anchor="middle">100</text>
<text x="414.2" y="852.0" text-anchor="middle">150</text>
<text x="504.4" y="852.0" text-anchor="middle">200</text>
<text x="594.5" y="852.0" text-anchor="middle">250</text>
<text x="684.6" y="852.0" text-anchor="middle">300</text>
<text x="774.8" y="852.0" text-anchor="middle">350</text>
<text x="130.1" y="824.5" text-anchor="end">-40</text>
<text x="130.1" y="664.5" text-anchor="end">-20</text>
<text x="130.1" y="504.5" text-anchor="end">0</text>
<text x="130.1" y="344.5" text-anchor="end">20</text>
<text x="130.1" y="184.5" text-anchor="end">40</text>
<text x="-0.1" y="417.6" text-anchor="start">Latitude</text>
<text x="468.1" y="892.8" text-anchor="middle">Longitude</text>
</svg>
</body></html>
